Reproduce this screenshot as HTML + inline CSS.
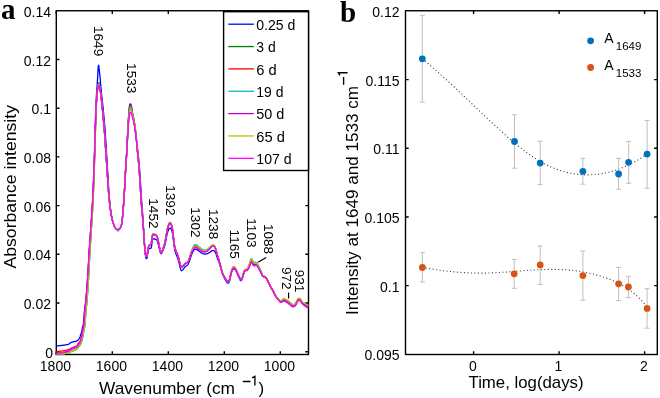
<!DOCTYPE html><html><head><meta charset="utf-8"><style>html,body{margin:0;padding:0;background:#fff;width:660px;height:398px;overflow:hidden}svg{display:block;will-change:transform}text{font-family:"Liberation Sans",sans-serif;fill:#000}</style></head><body>
<svg width="660" height="398" viewBox="0 0 660 398">
<rect width="660" height="398" fill="#fff"/>
<text x="1" y="19" style="font-family:'Liberation Serif',serif;font-weight:bold;font-size:29px">a</text>
<text x="340" y="22" style="font-family:'Liberation Serif',serif;font-weight:bold;font-size:29px">b</text>
<g stroke="#000" stroke-width="1.4" fill="none">
<rect x="56.3" y="10.75" width="252.2" height="343.75"/>
<path d="M56.3 354.5v-3.2M56.3 10.75v3.2M112.3 354.5v-3.2M112.3 10.75v3.2M168.3 354.5v-3.2M168.3 10.75v3.2M224.3 354.5v-3.2M224.3 10.75v3.2M280.3 354.5v-3.2M280.3 10.75v3.2M56.3 351.7h3.2M308.5 351.7h-3.2M56.3 303h3.2M308.5 303h-3.2M56.3 254.3h3.2M308.5 254.3h-3.2M56.3 205.6h3.2M308.5 205.6h-3.2M56.3 156.9h3.2M308.5 156.9h-3.2M56.3 108.2h3.2M308.5 108.2h-3.2M56.3 59.5h3.2M308.5 59.5h-3.2"/>
</g>
<g fill="none" stroke-width="1.3" stroke-linejoin="round">
<path stroke="#0000ff" d="M56.3 345.88 L56.55 345.87 L56.8 345.86 L57.05 345.84 L57.3 345.82 L57.55 345.81 L57.8 345.79 L58.05 345.77 L58.3 345.75 L58.55 345.73 L58.8 345.71 L59.05 345.69 L59.3 345.66 L59.55 345.64 L59.8 345.62 L60.05 345.59 L60.3 345.57 L60.55 345.55 L60.8 345.52 L61.05 345.49 L61.3 345.47 L61.55 345.44 L61.8 345.41 L62.05 345.39 L62.3 345.36 L62.55 345.33 L62.8 345.3 L63.05 345.26 L63.3 345.23 L63.55 345.2 L63.8 345.16 L64.05 345.13 L64.3 345.09 L64.55 345.05 L64.8 345.01 L65.05 344.97 L65.3 344.93 L65.55 344.88 L65.8 344.84 L66.05 344.79 L66.3 344.75 L66.55 344.7 L66.8 344.66 L67.05 344.62 L67.3 344.58 L67.55 344.52 L67.8 344.46 L68.05 344.39 L68.3 344.31 L68.55 344.22 L68.8 344.1 L69.05 343.97 L69.3 343.81 L69.55 343.62 L69.8 343.41 L70.05 343.19 L70.3 342.98 L70.55 342.78 L70.8 342.61 L71.05 342.48 L71.3 342.37 L71.55 342.28 L71.8 342.2 L72.05 342.13 L72.3 342.07 L72.55 342.02 L72.8 341.97 L73.05 341.92 L73.3 341.87 L73.55 341.81 L73.8 341.75 L74.05 341.7 L74.3 341.66 L74.55 341.61 L74.8 341.57 L75.05 341.53 L75.3 341.48 L75.55 341.43 L75.8 341.36 L76.05 341.28 L76.3 341.19 L76.55 341.08 L76.8 340.95 L77.05 340.79 L77.3 340.62 L77.55 340.42 L77.8 340.2 L78.05 339.95 L78.3 339.69 L78.55 339.42 L78.8 339.14 L79.05 338.84 L79.3 338.48 L79.55 338.03 L79.8 337.47 L80.05 336.79 L80.3 336.04 L80.55 335.25 L80.8 334.5 L81.05 333.81 L81.3 333.06 L81.55 332.19 L81.8 331.18 L82.05 329.74 L82.3 328.06 L82.55 326.83 L82.8 326.2 L83.05 325.65 L83.3 324.78 L83.55 322.66 L83.8 319.27 L84.05 315.53 L84.3 312.39 L84.55 310.05 L84.8 307.98 L85.05 306 L85.3 304.03 L85.55 301.95 L85.8 299.66 L86.05 297.18 L86.3 294.57 L86.55 291.8 L86.8 288.89 L87.05 285.81 L87.3 282.57 L87.55 279.13 L87.8 275.5 L88.05 271.58 L88.3 267.21 L88.55 262.63 L88.8 258.09 L89.05 253.8 L89.3 249.9 L89.55 246.2 L89.8 242.64 L90.05 239.15 L90.3 235.68 L90.55 232.16 L90.8 228.56 L91.05 225.05 L91.3 221.59 L91.55 218.11 L91.8 214.53 L92.05 210.75 L92.3 206.71 L92.55 202.32 L92.8 197.55 L93.05 192.43 L93.3 186.97 L93.55 181.19 L93.8 174.96 L94.05 168.1 L94.3 160.42 L94.55 152.01 L94.8 142.64 L95.05 132.96 L95.3 123.47 L95.55 114.32 L95.8 107.52 L96.05 102.34 L96.3 97.84 L96.55 93.8 L96.8 90.05 L97.05 86.61 L97.3 82.75 L97.55 78.62 L97.8 74.39 L98.05 69.88 L98.3 66.37 L98.55 65.06 L98.8 66 L99.05 68.09 L99.3 70.39 L99.55 72.57 L99.8 74.9 L100.05 77.3 L100.3 79.96 L100.55 82.95 L100.8 85.89 L101.05 88.59 L101.3 91.29 L101.55 94.01 L101.8 96.51 L102.05 98.67 L102.3 100.77 L102.55 102.97 L102.8 105.27 L103.05 107.65 L103.3 110.09 L103.55 112.59 L103.8 115.16 L104.05 117.82 L104.3 120.59 L104.55 123.49 L104.8 126.55 L105.05 129.78 L105.3 133.24 L105.55 136.99 L105.8 140.93 L106.05 144.96 L106.3 148.99 L106.55 152.98 L106.8 157.01 L107.05 161.07 L107.3 165.13 L107.55 169.18 L107.8 173.19 L108.05 177.34 L108.3 181.64 L108.55 185.93 L108.8 190.03 L109.05 193.73 L109.3 196.93 L109.55 199.87 L109.8 202.61 L110.05 205.13 L110.3 207.43 L110.55 209.53 L110.8 211.45 L111.05 213.23 L111.3 214.86 L111.55 216.35 L111.8 217.68 L112.05 218.86 L112.3 219.9 L112.55 220.83 L112.8 221.67 L113.05 222.45 L113.3 223.2 L113.55 223.94 L113.8 224.66 L114.05 225.34 L114.3 225.96 L114.55 226.5 L114.8 226.97 L115.05 227.42 L115.3 227.84 L115.55 228.21 L115.8 228.53 L116.05 228.78 L116.3 228.97 L116.55 229.13 L116.8 229.28 L117.05 229.41 L117.3 229.51 L117.55 229.58 L117.8 229.6 L118.05 229.58 L118.3 229.53 L118.55 229.44 L118.8 229.33 L119.05 229.2 L119.3 229.06 L119.55 228.89 L119.8 228.62 L120.05 228.25 L120.3 227.82 L120.55 227.32 L120.8 226.77 L121.05 226.16 L121.3 225.42 L121.55 224.5 L121.8 223.37 L122.05 221.66 L122.3 219.27 L122.55 216.51 L122.8 213.67 L123.05 210.79 L123.3 207.68 L123.55 204.36 L123.8 200.83 L124.05 197.06 L124.3 192.93 L124.55 188.54 L124.8 184.04 L125.05 179.27 L125.3 174.29 L125.55 169.57 L125.8 165.41 L126.05 161.59 L126.3 157.78 L126.55 153.69 L126.8 149.19 L127.05 144.42 L127.3 139.54 L127.55 134.73 L127.8 129.98 L128.05 125.24 L128.3 120.79 L128.55 116.82 L128.8 113.04 L129.05 109.81 L129.3 107.5 L129.55 105.67 L129.8 104.46 L130.05 104.03 L130.3 103.9 L130.55 104 L130.8 104.38 L131.05 105.06 L131.3 105.89 L131.55 106.97 L131.8 108.48 L132.05 110.23 L132.3 111.93 L132.55 113.54 L132.8 115.05 L133.05 116.43 L133.3 117.83 L133.55 119.32 L133.8 120.89 L134.05 122.5 L134.3 124.12 L134.55 125.74 L134.8 127.35 L135.05 128.94 L135.3 130.65 L135.55 132.51 L135.8 134.52 L136.05 136.65 L136.3 138.72 L136.55 140.81 L136.8 142.88 L137.05 144.94 L137.3 147 L137.55 149.09 L137.8 151.22 L138.05 153.48 L138.3 155.76 L138.55 158.06 L138.8 160.47 L139.05 163.06 L139.3 165.84 L139.55 168.78 L139.8 171.89 L140.05 175.21 L140.3 178.82 L140.55 182.94 L140.8 187.3 L141.05 191.51 L141.3 195.43 L141.55 199.25 L141.8 202.9 L142.05 206.27 L142.3 209.4 L142.55 212.49 L142.8 215.88 L143.05 219.72 L143.3 223.82 L143.55 228.14 L143.8 232.74 L144.05 237.58 L144.3 242 L144.55 246.06 L144.8 249.6 L145.05 252.13 L145.3 254.28 L145.55 256.2 L145.8 257.58 L146.05 258.13 L146.3 258.32 L146.55 258.48 L146.8 258.59 L147.05 257.93 L147.3 256.34 L147.55 254.66 L147.8 253.27 L148.05 251.8 L148.3 250.51 L148.55 249.64 L148.8 249.03 L149.05 248.58 L149.3 248.35 L149.55 248.32 L149.8 248.36 L150.05 248.43 L150.3 248.46 L150.55 248.41 L150.8 248.28 L151.05 248 L151.3 247.55 L151.55 246.16 L151.8 243.97 L152.05 242.22 L152.3 240.74 L152.55 239.51 L152.8 238.99 L153.05 238.98 L153.3 238.97 L153.55 238.97 L153.8 238.98 L154.05 238.98 L154.3 238.98 L154.55 239 L154.8 239.05 L155.05 239.12 L155.3 239.2 L155.55 239.3 L155.8 239.4 L156.05 239.51 L156.3 239.66 L156.55 239.85 L156.8 240.1 L157.05 240.47 L157.3 241.1 L157.55 241.9 L157.8 242.76 L158.05 243.59 L158.3 244.5 L158.55 245.51 L158.8 246.57 L159.05 247.61 L159.3 248.59 L159.55 249.68 L159.8 250.78 L160.05 251.75 L160.3 252.43 L160.55 252.93 L160.8 253.4 L161.05 253.73 L161.3 253.78 L161.55 253.51 L161.8 253.03 L162.05 252.49 L162.3 252 L162.55 251.46 L162.8 250.87 L163.05 250.24 L163.3 249.63 L163.55 249.03 L163.8 248.43 L164.05 247.8 L164.3 247.09 L164.55 246.29 L164.8 245.36 L165.05 244.34 L165.3 243.24 L165.55 242.09 L165.8 240.91 L166.05 239.61 L166.3 238.19 L166.55 236.77 L166.8 235.46 L167.05 234.36 L167.3 233.41 L167.55 232.53 L167.8 231.73 L168.05 231.02 L168.3 230.41 L168.55 229.82 L168.8 229.25 L169.05 228.77 L169.3 228.46 L169.55 228.37 L169.8 228.29 L170.05 228.23 L170.3 228.18 L170.55 228.24 L170.8 228.47 L171.05 228.79 L171.3 229.16 L171.55 229.69 L171.8 230.47 L172.05 231.45 L172.3 232.58 L172.55 233.9 L172.8 235.67 L173.05 237.69 L173.3 239.72 L173.55 241.62 L173.8 243.62 L174.05 245.6 L174.3 247.38 L174.55 248.81 L174.8 249.99 L175.05 251.06 L175.3 252 L175.55 252.84 L175.8 253.58 L176.05 254.23 L176.3 254.82 L176.55 255.39 L176.8 256 L177.05 256.62 L177.3 257.23 L177.55 257.85 L177.8 258.52 L178.05 259.25 L178.3 260.1 L178.55 261.04 L178.8 262.04 L179.05 263.04 L179.3 264.04 L179.55 265.1 L179.8 266.18 L180.05 267.2 L180.3 268.09 L180.55 268.81 L180.8 269.53 L181.05 270.16 L181.3 270.58 L181.55 270.7 L181.8 270.63 L182.05 270.49 L182.3 270.3 L182.55 270.09 L182.8 269.85 L183.05 269.55 L183.3 269.2 L183.55 268.84 L183.8 268.49 L184.05 268.14 L184.3 267.77 L184.55 267.41 L184.8 267.08 L185.05 266.83 L185.3 266.62 L185.55 266.43 L185.8 266.26 L186.05 266.08 L186.3 265.9 L186.55 265.73 L186.8 265.55 L187.05 265.36 L187.3 265.14 L187.55 264.89 L187.8 264.59 L188.05 264.26 L188.3 263.86 L188.55 263.36 L188.8 262.8 L189.05 262.18 L189.3 261.53 L189.55 260.86 L189.8 260.16 L190.05 259.39 L190.3 258.57 L190.55 257.73 L190.8 256.93 L191.05 256.18 L191.3 255.5 L191.55 254.85 L191.8 254.22 L192.05 253.62 L192.3 253.04 L192.55 252.49 L192.8 251.97 L193.05 251.44 L193.3 250.93 L193.55 250.46 L193.8 250.07 L194.05 249.79 L194.3 249.55 L194.55 249.33 L194.8 249.18 L195.05 249.1 L195.3 249.11 L195.55 249.13 L195.8 249.16 L196.05 249.21 L196.3 249.27 L196.55 249.33 L196.8 249.44 L197.05 249.59 L197.3 249.79 L197.55 249.99 L197.8 250.2 L198.05 250.39 L198.3 250.57 L198.55 250.76 L198.8 250.95 L199.05 251.14 L199.3 251.33 L199.55 251.52 L199.8 251.7 L200.05 251.88 L200.3 252.06 L200.55 252.25 L200.8 252.44 L201.05 252.63 L201.3 252.82 L201.55 252.99 L201.8 253.14 L202.05 253.28 L202.3 253.39 L202.55 253.48 L202.8 253.58 L203.05 253.67 L203.3 253.75 L203.55 253.83 L203.8 253.91 L204.05 253.97 L204.3 254.02 L204.55 254.06 L204.8 254.08 L205.05 254.08 L205.3 254.05 L205.55 254.02 L205.8 253.97 L206.05 253.92 L206.3 253.87 L206.55 253.82 L206.8 253.77 L207.05 253.72 L207.3 253.64 L207.55 253.55 L207.8 253.44 L208.05 253.31 L208.3 253.18 L208.55 253.05 L208.8 252.92 L209.05 252.77 L209.3 252.6 L209.55 252.41 L209.8 252.22 L210.05 252.02 L210.3 251.84 L210.55 251.67 L210.8 251.51 L211.05 251.33 L211.3 251.15 L211.55 250.98 L211.8 250.84 L212.05 250.75 L212.3 250.71 L212.55 250.68 L212.8 250.66 L213.05 250.63 L213.3 250.61 L213.55 250.6 L213.8 250.61 L214.05 250.72 L214.3 250.93 L214.55 251.19 L214.8 251.48 L215.05 251.78 L215.3 252.18 L215.55 252.72 L215.8 253.35 L216.05 254.02 L216.3 254.69 L216.55 255.47 L216.8 256.31 L217.05 257.17 L217.3 257.97 L217.55 258.67 L217.8 259.33 L218.05 259.96 L218.3 260.58 L218.55 261.22 L218.8 261.89 L219.05 262.62 L219.3 263.38 L219.55 264.16 L219.8 264.96 L220.05 265.76 L220.3 266.57 L220.55 267.41 L220.8 268.3 L221.05 269.22 L221.3 270.15 L221.55 271.06 L221.8 271.94 L222.05 272.77 L222.3 273.5 L222.55 274.16 L222.8 274.77 L223.05 275.34 L223.3 275.88 L223.55 276.41 L223.8 276.92 L224.05 277.43 L224.3 277.94 L224.55 278.44 L224.8 278.92 L225.05 279.39 L225.3 279.85 L225.55 280.28 L225.8 280.7 L226.05 281.12 L226.3 281.53 L226.55 281.91 L226.8 282.24 L227.05 282.51 L227.3 282.77 L227.55 283 L227.8 283.15 L228.05 283.2 L228.3 283.1 L228.55 282.88 L228.8 282.57 L229.05 282.19 L229.3 281.75 L229.55 281 L229.8 280.01 L230.05 278.91 L230.3 277.84 L230.55 276.75 L230.8 275.6 L231.05 274.53 L231.3 273.57 L231.55 272.62 L231.8 271.75 L232.05 271.04 L232.3 270.52 L232.55 270.06 L232.8 269.63 L233.05 269.28 L233.3 269.03 L233.55 268.91 L233.8 268.92 L234.05 268.98 L234.3 269.08 L234.55 269.21 L234.8 269.37 L235.05 269.54 L235.3 269.8 L235.55 270.15 L235.8 270.57 L236.05 271.01 L236.3 271.47 L236.55 272 L236.8 272.58 L237.05 273.18 L237.3 273.79 L237.55 274.38 L237.8 274.97 L238.05 275.59 L238.3 276.21 L238.55 276.82 L238.8 277.42 L239.05 277.98 L239.3 278.51 L239.55 279.05 L239.8 279.58 L240.05 280.01 L240.3 280.3 L240.55 280.48 L240.8 280.63 L241.05 280.7 L241.3 280.6 L241.55 280.27 L241.8 279.8 L242.05 279.29 L242.3 278.61 L242.55 277.75 L242.8 276.81 L243.05 275.89 L243.3 275.07 L243.55 274.22 L243.8 273.36 L244.05 272.55 L244.3 271.87 L244.55 271.36 L244.8 271.03 L245.05 270.73 L245.3 270.49 L245.55 270.34 L245.8 270.31 L246.05 270.38 L246.3 270.49 L246.55 270.58 L246.8 270.58 L247.05 270.43 L247.3 270.16 L247.55 269.83 L247.8 269.5 L248.05 269.17 L248.3 268.79 L248.55 268.37 L248.8 267.91 L249.05 267.42 L249.3 266.87 L249.55 266.17 L249.8 265.39 L250.05 264.63 L250.3 264 L250.55 263.43 L250.8 262.86 L251.05 262.39 L251.3 262.13 L251.55 262.15 L251.8 262.41 L252.05 262.82 L252.3 263.27 L252.55 263.68 L252.8 264.17 L253.05 264.72 L253.3 265.21 L253.55 265.54 L253.8 265.6 L254.05 265.6 L254.3 265.6 L254.55 265.6 L254.8 265.6 L255.05 265.6 L255.3 265.52 L255.55 265.38 L255.8 265.23 L256.05 265.12 L256.3 265.11 L256.55 265.23 L256.8 265.45 L257.05 265.74 L257.3 266.05 L257.55 266.36 L257.8 266.72 L258.05 267.13 L258.3 267.58 L258.55 268.04 L258.8 268.5 L259.05 268.95 L259.3 269.4 L259.55 269.86 L259.8 270.33 L260.05 270.81 L260.3 271.3 L260.55 271.82 L260.8 272.36 L261.05 272.89 L261.3 273.41 L261.55 273.89 L261.8 274.38 L262.05 274.86 L262.3 275.31 L262.55 275.7 L262.8 276 L263.05 276.22 L263.3 276.41 L263.55 276.57 L263.8 276.71 L264.05 276.82 L264.3 276.9 L264.55 276.97 L264.8 277.03 L265.05 277.1 L265.3 277.2 L265.55 277.36 L265.8 277.6 L266.05 277.9 L266.3 278.25 L266.55 278.62 L266.8 279 L267.05 279.43 L267.3 279.93 L267.55 280.49 L267.8 281.07 L268.05 281.65 L268.3 282.2 L268.55 282.74 L268.8 283.29 L269.05 283.84 L269.3 284.38 L269.55 284.91 L269.8 285.42 L270.05 285.89 L270.3 286.34 L270.55 286.75 L270.8 287.15 L271.05 287.55 L271.3 287.94 L271.55 288.34 L271.8 288.75 L272.05 289.19 L272.3 289.65 L272.55 290.12 L272.8 290.61 L273.05 291.1 L273.3 291.6 L273.55 292.1 L273.8 292.62 L274.05 293.15 L274.3 293.69 L274.55 294.21 L274.8 294.72 L275.05 295.19 L275.3 295.65 L275.55 296.09 L275.8 296.51 L276.05 296.92 L276.3 297.31 L276.55 297.67 L276.8 298.02 L277.05 298.34 L277.3 298.66 L277.55 298.96 L277.8 299.25 L278.05 299.54 L278.3 299.83 L278.55 300.11 L278.8 300.38 L279.05 300.64 L279.3 300.9 L279.55 301.16 L279.8 301.46 L280.05 301.75 L280.3 301.98 L280.55 302.1 L280.8 302.09 L281.05 302.05 L281.3 302 L281.55 301.93 L281.8 301.86 L282.05 301.78 L282.3 301.68 L282.55 301.54 L282.8 301.39 L283.05 301.26 L283.3 301.15 L283.55 301.1 L283.8 301.11 L284.05 301.14 L284.3 301.19 L284.55 301.25 L284.8 301.32 L285.05 301.39 L285.3 301.46 L285.55 301.56 L285.8 301.67 L286.05 301.8 L286.3 301.93 L286.55 302.07 L286.8 302.21 L287.05 302.37 L287.3 302.53 L287.55 302.71 L287.8 302.88 L288.05 303.07 L288.3 303.25 L288.55 303.44 L288.8 303.63 L289.05 303.82 L289.3 304.02 L289.55 304.22 L289.8 304.42 L290.05 304.63 L290.3 304.83 L290.55 305.04 L290.8 305.27 L291.05 305.52 L291.3 305.76 L291.55 305.99 L291.8 306.18 L292.05 306.33 L292.3 306.45 L292.55 306.57 L292.8 306.66 L293.05 306.7 L293.3 306.69 L293.55 306.65 L293.8 306.58 L294.05 306.5 L294.3 306.4 L294.55 306.26 L294.8 306.05 L295.05 305.79 L295.3 305.48 L295.55 305.15 L295.8 304.8 L296.05 304.39 L296.3 303.89 L296.55 303.34 L296.8 302.78 L297.05 302.26 L297.3 301.8 L297.55 301.38 L297.8 300.96 L298.05 300.62 L298.3 300.4 L298.55 300.27 L298.8 300.17 L299.05 300.11 L299.3 300.11 L299.55 300.22 L299.8 300.42 L300.05 300.66 L300.3 300.9 L300.55 301.17 L300.8 301.49 L301.05 301.84 L301.3 302.2 L301.55 302.54 L301.8 302.86 L302.05 303.18 L302.3 303.51 L302.55 303.82 L302.8 304.1 L303.05 304.35 L303.3 304.55 L303.55 304.74 L303.8 304.91 L304.05 305.09 L304.3 305.28 L304.55 305.48 L304.8 305.68 L305.05 305.89 L305.3 306.09 L305.55 306.28 L305.8 306.46 L306.05 306.63 L306.3 306.79 L306.55 306.94 L306.8 307.09 L307.05 307.23 L307.3 307.37 L307.55 307.49 L307.8 307.61 L308.05 307.72 L308.3 307.82"/>
<path stroke="#008000" d="M56.3 353.9 L56.55 353.9 L56.8 353.9 L57.05 353.9 L57.3 353.9 L57.55 353.9 L57.8 353.9 L58.05 353.9 L58.3 353.9 L58.55 353.9 L58.8 353.9 L59.05 353.9 L59.3 353.9 L59.55 353.9 L59.8 353.9 L60.05 353.9 L60.3 353.9 L60.55 353.9 L60.8 353.9 L61.05 353.9 L61.3 353.9 L61.55 353.9 L61.8 353.9 L62.05 353.9 L62.3 353.9 L62.55 353.9 L62.8 353.89 L63.05 353.85 L63.3 353.81 L63.55 353.77 L63.8 353.73 L64.05 353.69 L64.3 353.65 L64.55 353.6 L64.8 353.55 L65.05 353.51 L65.3 353.46 L65.55 353.41 L65.8 353.36 L66.05 353.3 L66.3 353.25 L66.55 353.2 L66.8 353.15 L67.05 353.1 L67.3 353.05 L67.55 352.99 L67.8 352.94 L68.05 352.88 L68.3 352.82 L68.55 352.76 L68.8 352.69 L69.05 352.63 L69.3 352.54 L69.55 352.44 L69.8 352.32 L70.05 352.19 L70.3 352.05 L70.55 351.91 L70.8 351.77 L71.05 351.64 L71.3 351.52 L71.55 351.4 L71.8 351.3 L72.05 351.2 L72.3 351.1 L72.55 351 L72.8 350.91 L73.05 350.81 L73.3 350.71 L73.55 350.61 L73.8 350.5 L74.05 350.39 L74.3 350.29 L74.55 350.19 L74.8 350.09 L75.05 349.99 L75.3 349.89 L75.55 349.77 L75.8 349.65 L76.05 349.51 L76.3 349.36 L76.55 349.17 L76.8 348.94 L77.05 348.67 L77.3 348.39 L77.55 348.08 L77.8 347.76 L78.05 347.45 L78.3 347.15 L78.55 346.89 L78.8 346.63 L79.05 346.35 L79.3 346.05 L79.55 345.73 L79.8 345.4 L80.05 345.05 L80.3 344.66 L80.55 344.22 L80.8 343.7 L81.05 343.06 L81.3 342.32 L81.55 341.5 L81.8 340.64 L82.05 339.73 L82.3 338.77 L82.55 337.74 L82.8 336.61 L83.05 335.37 L83.3 334 L83.55 332.18 L83.8 330.2 L84.05 328.74 L84.3 327.87 L84.55 327.11 L84.8 326 L85.05 323.63 L85.3 319.96 L85.55 315.88 L85.8 312.4 L86.05 309.68 L86.3 307.22 L86.55 304.83 L86.8 302.3 L87.05 299.41 L87.3 296.18 L87.55 292.72 L87.8 289.05 L88.05 285.2 L88.3 281.18 L88.55 277.02 L88.8 272.73 L89.05 267.99 L89.3 262.95 L89.55 257.95 L89.8 253.29 L90.05 249.08 L90.3 245.09 L90.55 241.23 L90.8 237.43 L91.05 233.61 L91.3 229.68 L91.55 225.79 L91.8 221.98 L92.05 218.15 L92.3 214.2 L92.55 210 L92.8 205.45 L93.05 200.46 L93.3 195.02 L93.55 189.16 L93.8 182.9 L94.05 176.18 L94.3 168.71 L94.55 160.75 L94.8 152.61 L95.05 143.98 L95.3 135.09 L95.55 126.46 L95.8 117.75 L96.05 110.4 L96.3 104.99 L96.55 100.56 L96.8 96.9 L97.05 93.79 L97.3 91.04 L97.55 88.67 L97.8 86.66 L98.05 84.95 L98.3 83.79 L98.55 82.95 L98.8 82.6 L99.05 82.96 L99.3 83.8 L99.55 84.88 L99.8 86.34 L100.05 88.06 L100.3 89.98 L100.55 92.12 L100.8 94.32 L101.05 96.41 L101.3 98.52 L101.55 100.75 L101.8 103.09 L102.05 105.51 L102.3 107.99 L102.55 110.51 L102.8 113.07 L103.05 115.68 L103.3 118.36 L103.55 121.11 L103.8 123.97 L104.05 126.92 L104.3 130 L104.55 133.27 L104.8 136.77 L105.05 140.4 L105.3 144.11 L105.55 147.81 L105.8 151.45 L106.05 155.1 L106.3 158.78 L106.55 162.47 L106.8 166.15 L107.05 169.82 L107.3 173.47 L107.55 177.27 L107.8 181.14 L108.05 184.97 L108.3 188.63 L108.55 192.02 L108.8 195 L109.05 197.66 L109.3 200.15 L109.55 202.48 L109.8 204.67 L110.05 206.7 L110.3 208.59 L110.55 210.34 L110.8 212 L111.05 213.57 L111.3 215.04 L111.55 216.42 L111.8 217.7 L112.05 218.86 L112.3 219.9 L112.55 220.83 L112.8 221.67 L113.05 222.45 L113.3 223.2 L113.55 223.94 L113.8 224.66 L114.05 225.34 L114.3 225.96 L114.55 226.5 L114.8 226.97 L115.05 227.42 L115.3 227.84 L115.55 228.21 L115.8 228.53 L116.05 228.78 L116.3 228.97 L116.55 229.13 L116.8 229.28 L117.05 229.41 L117.3 229.51 L117.55 229.58 L117.8 229.6 L118.05 229.58 L118.3 229.53 L118.55 229.44 L118.8 229.33 L119.05 229.2 L119.3 229.06 L119.55 228.89 L119.8 228.62 L120.05 228.25 L120.3 227.82 L120.55 227.33 L120.8 226.8 L121.05 226.21 L121.3 225.49 L121.55 224.6 L121.8 223.5 L122.05 221.84 L122.3 219.49 L122.55 216.78 L122.8 214 L123.05 211.18 L123.3 208.13 L123.55 204.88 L123.8 201.43 L124.05 197.75 L124.3 193.7 L124.55 189.41 L124.8 185 L125.05 180.33 L125.3 175.47 L125.55 170.85 L125.8 166.81 L126.05 163.11 L126.3 159.4 L126.55 155.38 L126.8 150.92 L127.05 146.19 L127.3 141.35 L127.55 136.58 L127.8 131.9 L128.05 127.26 L128.3 122.96 L128.55 119.18 L128.8 115.59 L129.05 112.55 L129.3 110.37 L129.55 108.62 L129.8 107.37 L130.05 106.79 L130.3 106.44 L130.55 106.3 L130.8 106.46 L131.05 106.93 L131.3 107.58 L131.55 108.49 L131.8 109.73 L132.05 111.05 L132.3 112.25 L132.55 113.33 L132.8 114.36 L133.05 115.36 L133.3 116.39 L133.55 117.49 L133.8 118.68 L134.05 119.93 L134.3 121.27 L134.55 122.72 L134.8 124.28 L135.05 125.98 L135.3 127.9 L135.55 130.02 L135.8 132.32 L136.05 134.76 L136.3 137.33 L136.55 140.21 L136.8 143.26 L137.05 146.29 L137.3 149.15 L137.55 151.8 L137.8 154.34 L138.05 156.84 L138.3 159.42 L138.55 162.16 L138.8 165.09 L139.05 168.17 L139.3 171.41 L139.55 174.84 L139.8 178.5 L140.05 182.65 L140.3 187.01 L140.55 191.21 L140.8 195.08 L141.05 198.83 L141.3 202.37 L141.55 205.62 L141.8 208.47 L142.05 211.12 L142.3 213.84 L142.55 216.82 L142.8 219.96 L143.05 223.22 L143.3 226.61 L143.55 230.18 L143.8 234.03 L144.05 237.86 L144.3 241.38 L144.55 244.85 L144.8 248 L145.05 250.42 L145.3 252.53 L145.55 254.41 L145.8 255.74 L146.05 256.23 L146.3 256.38 L146.55 256.47 L146.8 256.5 L147.05 255.76 L147.3 254.08 L147.55 252.3 L147.8 250.8 L148.05 249.23 L148.3 247.82 L148.55 246.84 L148.8 246.12 L149.05 245.55 L149.3 245.2 L149.55 245.02 L149.8 244.91 L150.05 244.81 L150.3 244.67 L150.55 244.47 L150.8 244.18 L151.05 243.77 L151.3 243.2 L151.55 241.73 L151.8 239.49 L152.05 237.72 L152.3 236.24 L152.55 235.01 L152.8 234.5 L153.05 234.5 L153.3 234.51 L153.55 234.53 L153.8 234.55 L154.05 234.57 L154.3 234.6 L154.55 234.64 L154.8 234.72 L155.05 234.82 L155.3 234.93 L155.55 235.06 L155.8 235.2 L156.05 235.35 L156.3 235.54 L156.55 235.77 L156.8 236.06 L157.05 236.48 L157.3 237.2 L157.55 238.13 L157.8 239.17 L158.05 240.21 L158.3 241.35 L158.55 242.62 L158.8 243.94 L159.05 245.25 L159.3 246.5 L159.55 247.84 L159.8 249.18 L160.05 250.35 L160.3 251.2 L160.55 251.83 L160.8 252.38 L161.05 252.73 L161.3 252.77 L161.55 252.46 L161.8 251.94 L162.05 251.34 L162.3 250.78 L162.55 250.15 L162.8 249.46 L163.05 248.73 L163.3 248 L163.55 247.28 L163.8 246.56 L164.05 245.8 L164.3 244.96 L164.55 244.02 L164.8 242.96 L165.05 241.81 L165.3 240.58 L165.55 239.3 L165.8 238 L166.05 236.59 L166.3 235.04 L166.55 233.48 L166.8 232.02 L167.05 230.77 L167.3 229.65 L167.55 228.6 L167.8 227.64 L168.05 226.77 L168.3 226 L168.55 225.27 L168.8 224.57 L169.05 223.98 L169.3 223.58 L169.55 223.42 L169.8 223.3 L170.05 223.23 L170.3 223.2 L170.55 223.31 L170.8 223.61 L171.05 224.02 L171.3 224.5 L171.55 225.14 L171.8 226.06 L172.05 227.19 L172.3 228.46 L172.55 229.93 L172.8 231.84 L173.05 234.02 L173.3 236.19 L173.55 238.22 L173.8 240.33 L174.05 242.41 L174.3 244.28 L174.55 245.76 L174.8 246.99 L175.05 248.06 L175.3 249 L175.55 249.84 L175.8 250.58 L176.05 251.23 L176.3 251.82 L176.55 252.39 L176.8 253 L177.05 253.62 L177.3 254.23 L177.55 254.85 L177.8 255.52 L178.05 256.25 L178.3 257.09 L178.55 258.01 L178.8 258.97 L179.05 259.93 L179.3 260.88 L179.55 261.89 L179.8 262.92 L180.05 263.89 L180.3 264.72 L180.55 265.4 L180.8 266.08 L181.05 266.68 L181.3 267.09 L181.55 267.2 L181.8 267.13 L182.05 267 L182.3 266.83 L182.55 266.64 L182.8 266.43 L183.05 266.15 L183.3 265.84 L183.55 265.51 L183.8 265.2 L184.05 264.89 L184.3 264.56 L184.55 264.25 L184.8 263.97 L185.05 263.76 L185.3 263.61 L185.55 263.47 L185.8 263.35 L186.05 263.23 L186.3 263.09 L186.55 262.95 L186.8 262.8 L187.05 262.63 L187.3 262.41 L187.55 262.16 L187.8 261.85 L188.05 261.5 L188.3 261.08 L188.55 260.56 L188.8 259.97 L189.05 259.32 L189.3 258.63 L189.55 257.94 L189.8 257.21 L190.05 256.4 L190.3 255.54 L190.55 254.67 L190.8 253.83 L191.05 253.05 L191.3 252.33 L191.55 251.64 L191.8 250.98 L192.05 250.34 L192.3 249.74 L192.55 249.16 L192.8 248.61 L193.05 248.05 L193.3 247.52 L193.55 247.03 L193.8 246.62 L194.05 246.32 L194.3 246.06 L194.55 245.84 L194.8 245.68 L195.05 245.6 L195.3 245.61 L195.55 245.63 L195.8 245.66 L196.05 245.71 L196.3 245.77 L196.55 245.83 L196.8 245.94 L197.05 246.1 L197.3 246.3 L197.55 246.51 L197.8 246.72 L198.05 246.91 L198.3 247.09 L198.55 247.28 L198.8 247.48 L199.05 247.67 L199.3 247.86 L199.55 248.05 L199.8 248.24 L200.05 248.42 L200.3 248.6 L200.55 248.79 L200.8 248.99 L201.05 249.18 L201.3 249.36 L201.55 249.53 L201.8 249.69 L202.05 249.82 L202.3 249.93 L202.55 250.02 L202.8 250.12 L203.05 250.21 L203.3 250.29 L203.55 250.37 L203.8 250.44 L204.05 250.49 L204.3 250.54 L204.55 250.57 L204.8 250.59 L205.05 250.57 L205.3 250.54 L205.55 250.48 L205.8 250.4 L206.05 250.31 L206.3 250.21 L206.55 250.1 L206.8 250 L207.05 249.88 L207.3 249.73 L207.55 249.56 L207.8 249.37 L208.05 249.16 L208.3 248.95 L208.55 248.73 L208.8 248.51 L209.05 248.27 L209.3 248.01 L209.55 247.74 L209.8 247.46 L210.05 247.18 L210.3 246.91 L210.55 246.66 L210.8 246.43 L211.05 246.18 L211.3 245.94 L211.55 245.71 L211.8 245.52 L212.05 245.38 L212.3 245.31 L212.55 245.25 L212.8 245.21 L213.05 245.17 L213.3 245.16 L213.55 245.16 L213.8 245.2 L214.05 245.38 L214.3 245.68 L214.55 246.08 L214.8 246.52 L215.05 246.98 L215.3 247.57 L215.55 248.31 L215.8 249.13 L216.05 250 L216.3 250.87 L216.55 251.83 L216.8 252.85 L217.05 253.87 L217.3 254.82 L217.55 255.69 L217.8 256.51 L218.05 257.31 L218.3 258.1 L218.55 258.9 L218.8 259.74 L219.05 260.62 L219.3 261.52 L219.55 262.44 L219.8 263.37 L220.05 264.29 L220.3 265.2 L220.55 266.13 L220.8 267.11 L221.05 268.1 L221.3 269.08 L221.55 270.03 L221.8 270.94 L222.05 271.77 L222.3 272.5 L222.55 273.15 L222.8 273.74 L223.05 274.3 L223.3 274.82 L223.55 275.32 L223.8 275.81 L224.05 276.3 L224.3 276.78 L224.55 277.24 L224.8 277.7 L225.05 278.14 L225.3 278.56 L225.55 278.97 L225.8 279.36 L226.05 279.75 L226.3 280.13 L226.55 280.48 L226.8 280.79 L227.05 281.05 L227.3 281.29 L227.55 281.5 L227.8 281.66 L228.05 281.7 L228.3 281.6 L228.55 281.39 L228.8 281.09 L229.05 280.73 L229.3 280.31 L229.55 279.58 L229.8 278.62 L230.05 277.54 L230.3 276.5 L230.55 275.44 L230.8 274.33 L231.05 273.29 L231.3 272.36 L231.55 271.44 L231.8 270.6 L232.05 269.91 L232.3 269.42 L232.55 268.98 L232.8 268.58 L233.05 268.25 L233.3 268.01 L233.55 267.9 L233.8 267.92 L234.05 267.98 L234.3 268.08 L234.55 268.21 L234.8 268.37 L235.05 268.54 L235.3 268.8 L235.55 269.15 L235.8 269.57 L236.05 270.01 L236.3 270.47 L236.55 271 L236.8 271.58 L237.05 272.18 L237.3 272.79 L237.55 273.38 L237.8 273.97 L238.05 274.59 L238.3 275.21 L238.55 275.82 L238.8 276.42 L239.05 276.98 L239.3 277.51 L239.55 278.05 L239.8 278.58 L240.05 279.01 L240.3 279.3 L240.55 279.48 L240.8 279.63 L241.05 279.7 L241.3 279.61 L241.55 279.31 L241.8 278.87 L242.05 278.4 L242.3 277.77 L242.55 276.98 L242.8 276.1 L243.05 275.26 L243.3 274.51 L243.55 273.73 L243.8 272.95 L244.05 272.22 L244.3 271.6 L244.55 271.16 L244.8 270.88 L245.05 270.63 L245.3 270.41 L245.55 270.23 L245.8 270.12 L246.05 270.07 L246.3 270.04 L246.55 269.98 L246.8 269.82 L247.05 269.5 L247.3 269.06 L247.55 268.57 L247.8 268.1 L248.05 267.64 L248.3 267.14 L248.55 266.58 L248.8 265.98 L249.05 265.34 L249.3 264.64 L249.55 263.8 L249.8 262.89 L250.05 262 L250.3 261.26 L250.55 260.59 L250.8 259.94 L251.05 259.42 L251.3 259.13 L251.55 259.15 L251.8 259.43 L252.05 259.86 L252.3 260.34 L252.55 260.79 L252.8 261.33 L253.05 261.94 L253.3 262.5 L253.55 262.89 L253.8 263.02 L254.05 263.09 L254.3 263.16 L254.55 263.24 L254.8 263.31 L255.05 263.37 L255.3 263.36 L255.55 263.28 L255.8 263.19 L256.05 263.13 L256.3 263.17 L256.55 263.34 L256.8 263.6 L257.05 263.93 L257.3 264.29 L257.55 264.65 L257.8 265.04 L258.05 265.5 L258.3 266 L258.55 266.5 L258.8 267 L259.05 267.49 L259.3 267.98 L259.55 268.48 L259.8 268.99 L260.05 269.51 L260.3 270.04 L260.55 270.6 L260.8 271.18 L261.05 271.75 L261.3 272.31 L261.55 272.83 L261.8 273.35 L262.05 273.87 L262.3 274.36 L262.55 274.79 L262.8 275.12 L263.05 275.38 L263.3 275.61 L263.55 275.82 L263.8 275.99 L264.05 276.15 L264.3 276.27 L264.55 276.38 L264.8 276.48 L265.05 276.59 L265.3 276.73 L265.55 276.94 L265.8 277.22 L266.05 277.55 L266.3 277.93 L266.55 278.34 L266.8 278.76 L267.05 279.22 L267.3 279.76 L267.55 280.34 L267.8 280.95 L268.05 281.55 L268.3 282.12 L268.55 282.68 L268.8 283.25 L269.05 283.81 L269.3 284.37 L269.55 284.9 L269.8 285.42 L270.05 285.89 L270.3 286.33 L270.55 286.75 L270.8 287.15 L271.05 287.53 L271.3 287.91 L271.55 288.3 L271.8 288.71 L272.05 289.13 L272.3 289.58 L272.55 290.03 L272.8 290.5 L273.05 290.98 L273.3 291.46 L273.55 291.94 L273.8 292.43 L274.05 292.94 L274.3 293.45 L274.55 293.95 L274.8 294.43 L275.05 294.88 L275.3 295.3 L275.55 295.71 L275.8 296.11 L276.05 296.48 L276.3 296.84 L276.55 297.17 L276.8 297.48 L277.05 297.78 L277.3 298.05 L277.55 298.32 L277.8 298.58 L278.05 298.83 L278.3 299.08 L278.55 299.33 L278.8 299.56 L279.05 299.79 L279.3 300.01 L279.55 300.23 L279.8 300.49 L280.05 300.75 L280.3 300.93 L280.55 300.98 L280.8 300.91 L281.05 300.8 L281.3 300.66 L281.55 300.51 L281.8 300.35 L282.05 300.19 L282.3 300 L282.55 299.79 L282.8 299.57 L283.05 299.37 L283.3 299.22 L283.55 299.13 L283.8 299.11 L284.05 299.14 L284.3 299.19 L284.55 299.25 L284.8 299.32 L285.05 299.39 L285.3 299.46 L285.55 299.56 L285.8 299.67 L286.05 299.8 L286.3 299.93 L286.55 300.07 L286.8 300.21 L287.05 300.37 L287.3 300.53 L287.55 300.71 L287.8 300.88 L288.05 301.07 L288.3 301.25 L288.55 301.44 L288.8 301.63 L289.05 301.82 L289.3 302.02 L289.55 302.22 L289.8 302.42 L290.05 302.63 L290.3 302.83 L290.55 303.04 L290.8 303.27 L291.05 303.52 L291.3 303.76 L291.55 303.99 L291.8 304.18 L292.05 304.33 L292.3 304.45 L292.55 304.57 L292.8 304.66 L293.05 304.7 L293.3 304.69 L293.55 304.66 L293.8 304.6 L294.05 304.54 L294.3 304.46 L294.55 304.34 L294.8 304.16 L295.05 303.92 L295.3 303.64 L295.55 303.34 L295.8 303.03 L296.05 302.65 L296.3 302.18 L296.55 301.66 L296.8 301.13 L297.05 300.63 L297.3 300.2 L297.55 299.8 L297.8 299.41 L298.05 299.08 L298.3 298.88 L298.55 298.77 L298.8 298.67 L299.05 298.61 L299.3 298.61 L299.55 298.72 L299.8 298.91 L300.05 299.14 L300.3 299.38 L300.55 299.64 L300.8 299.95 L301.05 300.29 L301.3 300.63 L301.55 300.96 L301.8 301.26 L302.05 301.57 L302.3 301.88 L302.55 302.17 L302.8 302.43 L303.05 302.65 L303.3 302.83 L303.55 302.99 L303.8 303.14 L304.05 303.28 L304.3 303.44 L304.55 303.6 L304.8 303.77 L305.05 303.94 L305.3 304.1 L305.55 304.26 L305.8 304.4 L306.05 304.53 L306.3 304.64 L306.55 304.75 L306.8 304.84 L307.05 304.94 L307.3 305.02 L307.55 305.09 L307.8 305.16 L308.05 305.21 L308.3 305.25"/>
<path stroke="#ff0000" d="M56.3 351.4 L56.55 351.39 L56.8 351.38 L57.05 351.38 L57.3 351.37 L57.55 351.36 L57.8 351.34 L58.05 351.33 L58.3 351.32 L58.55 351.3 L58.8 351.28 L59.05 351.27 L59.3 351.25 L59.55 351.23 L59.8 351.21 L60.05 351.19 L60.3 351.16 L60.55 351.14 L60.8 351.12 L61.05 351.1 L61.3 351.07 L61.55 351.04 L61.8 351.02 L62.05 350.99 L62.3 350.95 L62.55 350.92 L62.8 350.89 L63.05 350.85 L63.3 350.81 L63.55 350.77 L63.8 350.73 L64.05 350.69 L64.3 350.64 L64.55 350.6 L64.8 350.55 L65.05 350.5 L65.3 350.45 L65.55 350.4 L65.8 350.34 L66.05 350.29 L66.3 350.23 L66.55 350.16 L66.8 350.09 L67.05 350.02 L67.3 349.94 L67.55 349.86 L67.8 349.77 L68.05 349.68 L68.3 349.58 L68.55 349.48 L68.8 349.38 L69.05 349.28 L69.3 349.16 L69.55 349.04 L69.8 348.91 L70.05 348.77 L70.3 348.64 L70.55 348.52 L70.8 348.4 L71.05 348.31 L71.3 348.22 L71.55 348.14 L71.8 348.05 L72.05 347.96 L72.3 347.86 L72.55 347.75 L72.8 347.63 L73.05 347.5 L73.3 347.37 L73.55 347.23 L73.8 347.09 L74.05 346.97 L74.3 346.85 L74.55 346.75 L74.8 346.67 L75.05 346.6 L75.3 346.52 L75.55 346.45 L75.8 346.37 L76.05 346.26 L76.3 346.12 L76.55 345.92 L76.8 345.68 L77.05 345.39 L77.3 345.07 L77.55 344.71 L77.8 344.35 L78.05 343.99 L78.3 343.64 L78.55 343.3 L78.8 342.96 L79.05 342.62 L79.3 342.29 L79.55 341.96 L79.8 341.62 L80.05 341.21 L80.3 340.7 L80.55 340.1 L80.8 339.4 L81.05 338.61 L81.3 337.75 L81.55 336.84 L81.8 335.82 L82.05 334.67 L82.3 333.3 L82.55 331.41 L82.8 329.57 L83.05 328.37 L83.3 327.58 L83.55 326.73 L83.8 325.26 L84.05 322.28 L84.3 318.4 L84.55 314.53 L84.8 311.5 L85.05 309.01 L85.3 306.73 L85.55 304.49 L85.8 302.12 L86.05 299.43 L86.3 296.49 L86.55 293.36 L86.8 290.07 L87.05 286.62 L87.3 283.04 L87.55 279.34 L87.8 275.54 L88.05 271.58 L88.3 267.21 L88.55 262.63 L88.8 258.09 L89.05 253.8 L89.3 249.9 L89.55 246.2 L89.8 242.64 L90.05 239.15 L90.3 235.68 L90.55 232.16 L90.8 228.56 L91.05 225.05 L91.3 221.59 L91.55 218.11 L91.8 214.53 L92.05 210.75 L92.3 206.71 L92.55 202.32 L92.8 197.55 L93.05 192.43 L93.3 186.97 L93.55 181.19 L93.8 174.96 L94.05 168.12 L94.3 160.89 L94.55 153.51 L94.8 145.74 L95.05 137.74 L95.3 130 L95.55 122.28 L95.8 114.87 L96.05 108.97 L96.3 104.28 L96.55 100.3 L96.8 96.96 L97.05 94.11 L97.3 91.62 L97.55 89.5 L97.8 87.68 L98.05 86.15 L98.3 85.22 L98.55 84.57 L98.8 84.3 L99.05 84.58 L99.3 85.24 L99.55 86.1 L99.8 87.38 L100.05 88.9 L100.3 90.53 L100.55 92.39 L100.8 94.38 L101.05 96.41 L101.3 98.52 L101.55 100.75 L101.8 103.09 L102.05 105.51 L102.3 107.99 L102.55 110.51 L102.8 113.07 L103.05 115.68 L103.3 118.36 L103.55 121.11 L103.8 123.97 L104.05 126.92 L104.3 130 L104.55 133.27 L104.8 136.77 L105.05 140.4 L105.3 144.11 L105.55 147.81 L105.8 151.45 L106.05 155.1 L106.3 158.78 L106.55 162.47 L106.8 166.15 L107.05 169.82 L107.3 173.47 L107.55 177.27 L107.8 181.14 L108.05 184.97 L108.3 188.63 L108.55 192.02 L108.8 195 L109.05 197.66 L109.3 200.15 L109.55 202.48 L109.8 204.67 L110.05 206.7 L110.3 208.59 L110.55 210.34 L110.8 212 L111.05 213.57 L111.3 215.04 L111.55 216.42 L111.8 217.7 L112.05 218.86 L112.3 219.9 L112.55 220.83 L112.8 221.67 L113.05 222.45 L113.3 223.2 L113.55 223.94 L113.8 224.66 L114.05 225.34 L114.3 225.96 L114.55 226.5 L114.8 226.97 L115.05 227.42 L115.3 227.84 L115.55 228.21 L115.8 228.53 L116.05 228.78 L116.3 228.97 L116.55 229.13 L116.8 229.28 L117.05 229.41 L117.3 229.51 L117.55 229.58 L117.8 229.6 L118.05 229.58 L118.3 229.53 L118.55 229.44 L118.8 229.33 L119.05 229.2 L119.3 229.06 L119.55 228.89 L119.8 228.62 L120.05 228.25 L120.3 227.82 L120.55 227.33 L120.8 226.8 L121.05 226.21 L121.3 225.49 L121.55 224.6 L121.8 223.5 L122.05 221.84 L122.3 219.49 L122.55 216.78 L122.8 214 L123.05 211.18 L123.3 208.13 L123.55 204.88 L123.8 201.43 L124.05 197.75 L124.3 193.7 L124.55 189.41 L124.8 185 L125.05 180.33 L125.3 175.47 L125.55 170.85 L125.8 166.81 L126.05 163.11 L126.3 159.35 L126.55 155.23 L126.8 150.63 L127.05 145.73 L127.3 140.73 L127.55 135.8 L127.8 130.98 L128.05 126.25 L128.3 121.87 L128.55 118.01 L128.8 114.36 L129.05 111.25 L129.3 109.01 L129.55 107.21 L129.8 105.92 L130.05 105.32 L130.3 104.95 L130.55 104.81 L130.8 105.06 L131.05 105.74 L131.3 106.66 L131.55 107.89 L131.8 109.46 L132.05 111.08 L132.3 112.52 L132.55 113.76 L132.8 114.93 L133.05 116.12 L133.3 117.36 L133.55 118.68 L133.8 120.07 L134.05 121.52 L134.3 123.03 L134.55 124.61 L134.8 126.25 L135.05 127.98 L135.3 129.86 L135.55 131.9 L135.8 134.07 L136.05 136.36 L136.3 138.77 L136.55 141.48 L136.8 144.37 L137.05 147.26 L137.3 150 L137.55 152.52 L137.8 154.94 L138.05 157.33 L138.3 159.8 L138.55 162.44 L138.8 165.29 L139.05 168.3 L139.3 171.48 L139.55 174.87 L139.8 178.51 L140.05 182.65 L140.3 187.01 L140.55 191.21 L140.8 195.08 L141.05 198.83 L141.3 202.37 L141.55 205.62 L141.8 208.47 L142.05 211.12 L142.3 213.84 L142.55 216.82 L142.8 219.96 L143.05 223.22 L143.3 226.61 L143.55 230.18 L143.8 234.03 L144.05 237.86 L144.3 241.38 L144.55 244.85 L144.8 248 L145.05 250.42 L145.3 252.53 L145.55 254.41 L145.8 255.74 L146.05 256.23 L146.3 256.38 L146.55 256.47 L146.8 256.5 L147.05 255.76 L147.3 254.08 L147.55 252.3 L147.8 250.8 L148.05 249.23 L148.3 247.82 L148.55 246.84 L148.8 246.12 L149.05 245.55 L149.3 245.2 L149.55 245.02 L149.8 244.91 L150.05 244.81 L150.3 244.67 L150.55 244.47 L150.8 244.18 L151.05 243.77 L151.3 243.2 L151.55 241.73 L151.8 239.49 L152.05 237.72 L152.3 236.24 L152.55 235.01 L152.8 234.5 L153.05 234.5 L153.3 234.51 L153.55 234.53 L153.8 234.55 L154.05 234.57 L154.3 234.6 L154.55 234.64 L154.8 234.72 L155.05 234.82 L155.3 234.93 L155.55 235.06 L155.8 235.2 L156.05 235.35 L156.3 235.54 L156.55 235.77 L156.8 236.06 L157.05 236.48 L157.3 237.2 L157.55 238.13 L157.8 239.17 L158.05 240.21 L158.3 241.35 L158.55 242.62 L158.8 243.94 L159.05 245.25 L159.3 246.5 L159.55 247.84 L159.8 249.18 L160.05 250.35 L160.3 251.2 L160.55 251.83 L160.8 252.38 L161.05 252.73 L161.3 252.77 L161.55 252.46 L161.8 251.94 L162.05 251.34 L162.3 250.78 L162.55 250.15 L162.8 249.46 L163.05 248.73 L163.3 248 L163.55 247.28 L163.8 246.56 L164.05 245.8 L164.3 244.96 L164.55 244.02 L164.8 242.96 L165.05 241.81 L165.3 240.58 L165.55 239.3 L165.8 238 L166.05 236.59 L166.3 235.04 L166.55 233.48 L166.8 232.02 L167.05 230.77 L167.3 229.65 L167.55 228.6 L167.8 227.64 L168.05 226.77 L168.3 226 L168.55 225.27 L168.8 224.57 L169.05 223.98 L169.3 223.58 L169.55 223.42 L169.8 223.3 L170.05 223.23 L170.3 223.2 L170.55 223.31 L170.8 223.61 L171.05 224.02 L171.3 224.5 L171.55 225.14 L171.8 226.06 L172.05 227.19 L172.3 228.46 L172.55 229.93 L172.8 231.84 L173.05 234.02 L173.3 236.19 L173.55 238.22 L173.8 240.33 L174.05 242.41 L174.3 244.28 L174.55 245.76 L174.8 246.99 L175.05 248.06 L175.3 249 L175.55 249.84 L175.8 250.58 L176.05 251.23 L176.3 251.82 L176.55 252.39 L176.8 253 L177.05 253.62 L177.3 254.23 L177.55 254.85 L177.8 255.52 L178.05 256.25 L178.3 257.09 L178.55 258.01 L178.8 258.97 L179.05 259.93 L179.3 260.88 L179.55 261.89 L179.8 262.92 L180.05 263.89 L180.3 264.72 L180.55 265.4 L180.8 266.08 L181.05 266.68 L181.3 267.09 L181.55 267.2 L181.8 267.13 L182.05 267 L182.3 266.83 L182.55 266.64 L182.8 266.43 L183.05 266.15 L183.3 265.84 L183.55 265.51 L183.8 265.2 L184.05 264.89 L184.3 264.56 L184.55 264.25 L184.8 263.97 L185.05 263.76 L185.3 263.61 L185.55 263.47 L185.8 263.35 L186.05 263.23 L186.3 263.09 L186.55 262.96 L186.8 262.82 L187.05 262.66 L187.3 262.47 L187.55 262.24 L187.8 261.96 L188.05 261.63 L188.3 261.24 L188.55 260.76 L188.8 260.2 L189.05 259.58 L189.3 258.94 L189.55 258.28 L189.8 257.59 L190.05 256.82 L190.3 256.01 L190.55 255.18 L190.8 254.38 L191.05 253.64 L191.3 252.96 L191.55 252.32 L191.8 251.69 L192.05 251.09 L192.3 250.52 L192.55 249.98 L192.8 249.46 L193.05 248.93 L193.3 248.42 L193.55 247.96 L193.8 247.57 L194.05 247.29 L194.3 247.04 L194.55 246.83 L194.8 246.67 L195.05 246.6 L195.3 246.61 L195.55 246.63 L195.8 246.66 L196.05 246.71 L196.3 246.77 L196.55 246.83 L196.8 246.94 L197.05 247.1 L197.3 247.3 L197.55 247.51 L197.8 247.72 L198.05 247.91 L198.3 248.09 L198.55 248.28 L198.8 248.48 L199.05 248.67 L199.3 248.86 L199.55 249.05 L199.8 249.24 L200.05 249.42 L200.3 249.6 L200.55 249.79 L200.8 249.99 L201.05 250.18 L201.3 250.36 L201.55 250.53 L201.8 250.69 L202.05 250.82 L202.3 250.93 L202.55 251.02 L202.8 251.12 L203.05 251.21 L203.3 251.29 L203.55 251.37 L203.8 251.44 L204.05 251.49 L204.3 251.54 L204.55 251.57 L204.8 251.59 L205.05 251.57 L205.3 251.54 L205.55 251.48 L205.8 251.4 L206.05 251.32 L206.3 251.22 L206.55 251.12 L206.8 251.02 L207.05 250.91 L207.3 250.77 L207.55 250.61 L207.8 250.42 L208.05 250.22 L208.3 250.02 L208.55 249.8 L208.8 249.59 L209.05 249.36 L209.3 249.11 L209.55 248.84 L209.8 248.56 L210.05 248.28 L210.3 248.01 L210.55 247.77 L210.8 247.53 L211.05 247.28 L211.3 247.03 L211.55 246.8 L211.8 246.6 L212.05 246.45 L212.3 246.36 L212.55 246.29 L212.8 246.22 L213.05 246.17 L213.3 246.13 L213.55 246.1 L213.8 246.11 L214.05 246.25 L214.3 246.52 L214.55 246.87 L214.8 247.27 L215.05 247.69 L215.3 248.23 L215.55 248.91 L215.8 249.69 L216.05 250.51 L216.3 251.33 L216.55 252.25 L216.8 253.22 L217.05 254.19 L217.3 255.1 L217.55 255.93 L217.8 256.71 L218.05 257.46 L218.3 258.22 L218.55 258.99 L218.8 259.8 L219.05 260.66 L219.3 261.54 L219.55 262.45 L219.8 263.37 L220.05 264.29 L220.3 265.2 L220.55 266.13 L220.8 267.11 L221.05 268.1 L221.3 269.08 L221.55 270.03 L221.8 270.94 L222.05 271.77 L222.3 272.5 L222.55 273.15 L222.8 273.74 L223.05 274.3 L223.3 274.82 L223.55 275.32 L223.8 275.81 L224.05 276.3 L224.3 276.78 L224.55 277.24 L224.8 277.7 L225.05 278.14 L225.3 278.56 L225.55 278.97 L225.8 279.36 L226.05 279.75 L226.3 280.13 L226.55 280.48 L226.8 280.79 L227.05 281.05 L227.3 281.29 L227.55 281.5 L227.8 281.66 L228.05 281.7 L228.3 281.6 L228.55 281.39 L228.8 281.09 L229.05 280.73 L229.3 280.31 L229.55 279.58 L229.8 278.62 L230.05 277.54 L230.3 276.5 L230.55 275.44 L230.8 274.33 L231.05 273.29 L231.3 272.36 L231.55 271.44 L231.8 270.6 L232.05 269.91 L232.3 269.42 L232.55 268.98 L232.8 268.58 L233.05 268.25 L233.3 268.01 L233.55 267.9 L233.8 267.92 L234.05 267.98 L234.3 268.08 L234.55 268.21 L234.8 268.37 L235.05 268.54 L235.3 268.8 L235.55 269.15 L235.8 269.57 L236.05 270.01 L236.3 270.47 L236.55 271 L236.8 271.58 L237.05 272.18 L237.3 272.79 L237.55 273.38 L237.8 273.97 L238.05 274.59 L238.3 275.21 L238.55 275.82 L238.8 276.42 L239.05 276.98 L239.3 277.51 L239.55 278.05 L239.8 278.58 L240.05 279.01 L240.3 279.3 L240.55 279.48 L240.8 279.61 L241.05 279.67 L241.3 279.57 L241.55 279.25 L241.8 278.8 L242.05 278.31 L242.3 277.66 L242.55 276.84 L242.8 275.94 L243.05 275.07 L243.3 274.29 L243.55 273.49 L243.8 272.67 L244.05 271.91 L244.3 271.26 L244.55 270.79 L244.8 270.48 L245.05 270.19 L245.3 269.96 L245.55 269.81 L245.8 269.77 L246.05 269.81 L246.3 269.89 L246.55 269.94 L246.8 269.91 L247.05 269.73 L247.3 269.42 L247.55 269.06 L247.8 268.7 L248.05 268.34 L248.3 267.94 L248.55 267.5 L248.8 267.02 L249.05 266.5 L249.3 265.93 L249.55 265.22 L249.8 264.42 L250.05 263.65 L250.3 263.01 L250.55 262.44 L250.8 261.86 L251.05 261.39 L251.3 261.13 L251.55 261.15 L251.8 261.41 L252.05 261.82 L252.3 262.27 L252.55 262.68 L252.8 263.17 L253.05 263.72 L253.3 264.21 L253.55 264.54 L253.8 264.6 L254.05 264.6 L254.3 264.6 L254.55 264.6 L254.8 264.6 L255.05 264.6 L255.3 264.52 L255.55 264.38 L255.8 264.23 L256.05 264.12 L256.3 264.11 L256.55 264.24 L256.8 264.46 L257.05 264.75 L257.3 265.08 L257.55 265.4 L257.8 265.76 L258.05 266.19 L258.3 266.65 L258.55 267.13 L258.8 267.6 L259.05 268.07 L259.3 268.54 L259.55 269.02 L259.8 269.51 L260.05 270.01 L260.3 270.52 L260.55 271.07 L260.8 271.63 L261.05 272.19 L261.3 272.73 L261.55 273.24 L261.8 273.75 L262.05 274.26 L262.3 274.74 L262.55 275.16 L262.8 275.48 L263.05 275.73 L263.3 275.94 L263.55 276.13 L263.8 276.29 L264.05 276.43 L264.3 276.54 L264.55 276.63 L264.8 276.72 L265.05 276.81 L265.3 276.94 L265.55 277.12 L265.8 277.39 L266.05 277.71 L266.3 278.07 L266.55 278.46 L266.8 278.87 L267.05 279.32 L267.3 279.84 L267.55 280.41 L267.8 281 L268.05 281.59 L268.3 282.16 L268.55 282.71 L268.8 283.27 L269.05 283.82 L269.3 284.37 L269.55 284.91 L269.8 285.42 L270.05 285.89 L270.3 286.33 L270.55 286.75 L270.8 287.15 L271.05 287.54 L271.3 287.93 L271.55 288.32 L271.8 288.73 L272.05 289.16 L272.3 289.61 L272.55 290.08 L272.8 290.56 L273.05 291.04 L273.3 291.53 L273.55 292.02 L273.8 292.52 L274.05 293.04 L274.3 293.57 L274.55 294.08 L274.8 294.57 L275.05 295.03 L275.3 295.47 L275.55 295.9 L275.8 296.31 L276.05 296.7 L276.3 297.07 L276.55 297.42 L276.8 297.75 L277.05 298.06 L277.3 298.35 L277.55 298.64 L277.8 298.91 L278.05 299.19 L278.3 299.45 L278.55 299.72 L278.8 299.97 L279.05 300.22 L279.3 300.45 L279.55 300.69 L279.8 300.98 L280.05 301.25 L280.3 301.46 L280.55 301.56 L280.8 301.53 L281.05 301.48 L281.3 301.4 L281.55 301.32 L281.8 301.23 L282.05 301.13 L282.3 301.01 L282.55 300.85 L282.8 300.69 L283.05 300.53 L283.3 300.41 L283.55 300.35 L283.8 300.34 L284.05 300.35 L284.3 300.38 L284.55 300.43 L284.8 300.48 L285.05 300.54 L285.3 300.6 L285.55 300.69 L285.8 300.79 L286.05 300.9 L286.3 301.02 L286.55 301.15 L286.8 301.28 L287.05 301.43 L287.3 301.58 L287.55 301.75 L287.8 301.92 L288.05 302.09 L288.3 302.27 L288.55 302.45 L288.8 302.64 L289.05 302.82 L289.3 303.02 L289.55 303.22 L289.8 303.42 L290.05 303.63 L290.3 303.83 L290.55 304.04 L290.8 304.27 L291.05 304.52 L291.3 304.76 L291.55 304.99 L291.8 305.18 L292.05 305.33 L292.3 305.45 L292.55 305.57 L292.8 305.66 L293.05 305.7 L293.3 305.69 L293.55 305.65 L293.8 305.58 L294.05 305.5 L294.3 305.4 L294.55 305.26 L294.8 305.05 L295.05 304.79 L295.3 304.48 L295.55 304.15 L295.8 303.8 L296.05 303.39 L296.3 302.89 L296.55 302.34 L296.8 301.78 L297.05 301.26 L297.3 300.8 L297.55 300.38 L297.8 299.96 L298.05 299.62 L298.3 299.4 L298.55 299.27 L298.8 299.17 L299.05 299.11 L299.3 299.11 L299.55 299.22 L299.8 299.41 L300.05 299.65 L300.3 299.89 L300.55 300.15 L300.8 300.46 L301.05 300.8 L301.3 301.15 L301.55 301.48 L301.8 301.79 L302.05 302.11 L302.3 302.42 L302.55 302.72 L302.8 302.99 L303.05 303.22 L303.3 303.41 L303.55 303.58 L303.8 303.74 L304.05 303.9 L304.3 304.07 L304.55 304.25 L304.8 304.44 L305.05 304.62 L305.3 304.81 L305.55 304.98 L305.8 305.14 L306.05 305.29 L306.3 305.43 L306.55 305.56 L306.8 305.69 L307.05 305.81 L307.3 305.92 L307.55 306.03 L307.8 306.13 L308.05 306.22 L308.3 306.3"/>
<path stroke="#00bfbf" d="M56.3 353.9 L56.55 353.9 L56.8 353.9 L57.05 353.9 L57.3 353.9 L57.55 353.9 L57.8 353.9 L58.05 353.9 L58.3 353.9 L58.55 353.9 L58.8 353.9 L59.05 353.9 L59.3 353.9 L59.55 353.9 L59.8 353.9 L60.05 353.9 L60.3 353.9 L60.55 353.9 L60.8 353.9 L61.05 353.9 L61.3 353.9 L61.55 353.9 L61.8 353.9 L62.05 353.9 L62.3 353.9 L62.55 353.9 L62.8 353.89 L63.05 353.85 L63.3 353.81 L63.55 353.77 L63.8 353.73 L64.05 353.69 L64.3 353.65 L64.55 353.6 L64.8 353.55 L65.05 353.51 L65.3 353.46 L65.55 353.41 L65.8 353.36 L66.05 353.3 L66.3 353.25 L66.55 353.2 L66.8 353.15 L67.05 353.1 L67.3 353.05 L67.55 352.99 L67.8 352.94 L68.05 352.88 L68.3 352.82 L68.55 352.76 L68.8 352.69 L69.05 352.63 L69.3 352.54 L69.55 352.44 L69.8 352.32 L70.05 352.19 L70.3 352.05 L70.55 351.91 L70.8 351.77 L71.05 351.64 L71.3 351.52 L71.55 351.4 L71.8 351.3 L72.05 351.2 L72.3 351.1 L72.55 351 L72.8 350.91 L73.05 350.81 L73.3 350.71 L73.55 350.61 L73.8 350.5 L74.05 350.39 L74.3 350.29 L74.55 350.19 L74.8 350.09 L75.05 349.99 L75.3 349.89 L75.55 349.77 L75.8 349.65 L76.05 349.51 L76.3 349.36 L76.55 349.17 L76.8 348.94 L77.05 348.67 L77.3 348.39 L77.55 348.08 L77.8 347.76 L78.05 347.45 L78.3 347.15 L78.55 346.88 L78.8 346.62 L79.05 346.34 L79.3 346.04 L79.55 345.71 L79.8 345.38 L80.05 345.02 L80.3 344.64 L80.55 344.2 L80.8 343.69 L81.05 343.06 L81.3 342.35 L81.55 341.57 L81.8 340.73 L82.05 339.86 L82.3 338.93 L82.55 337.94 L82.8 336.87 L83.05 335.7 L83.3 334.4 L83.55 332.81 L83.8 330.87 L84.05 329.19 L84.3 328.17 L84.55 327.42 L84.8 326.51 L85.05 324.78 L85.3 321.51 L85.55 317.46 L85.8 313.61 L86.05 310.68 L86.3 308.14 L86.55 305.75 L86.8 303.3 L87.05 300.56 L87.3 297.44 L87.55 294.07 L87.8 290.47 L88.05 286.69 L88.3 282.72 L88.55 278.61 L88.8 274.38 L89.05 269.83 L89.3 264.86 L89.55 259.79 L89.8 254.95 L90.05 250.59 L90.3 246.49 L90.55 242.55 L90.8 238.68 L91.05 234.8 L91.3 230.84 L91.55 226.83 L91.8 222.92 L92.05 219.02 L92.3 215.01 L92.55 210.77 L92.8 206.18 L93.05 201.14 L93.3 195.63 L93.55 189.68 L93.8 183.33 L94.05 176.52 L94.3 168.95 L94.55 160.9 L94.8 152.66 L95.05 143.96 L95.3 135.04 L95.55 126.39 L95.8 117.68 L96.05 110.36 L96.3 104.97 L96.55 100.55 L96.8 96.97 L97.05 94.01 L97.3 91.42 L97.55 89.2 L97.8 87.26 L98.05 85.63 L98.3 84.61 L98.55 83.9 L98.8 83.6 L99.05 83.91 L99.3 84.63 L99.55 85.59 L99.8 86.99 L100.05 88.62 L100.3 90.37 L100.55 92.32 L100.8 94.37 L101.05 96.41 L101.3 98.52 L101.55 100.75 L101.8 103.09 L102.05 105.51 L102.3 107.99 L102.55 110.51 L102.8 113.07 L103.05 115.68 L103.3 118.36 L103.55 121.11 L103.8 123.97 L104.05 126.92 L104.3 130 L104.55 133.27 L104.8 136.77 L105.05 140.4 L105.3 144.11 L105.55 147.81 L105.8 151.45 L106.05 155.1 L106.3 158.78 L106.55 162.47 L106.8 166.15 L107.05 169.82 L107.3 173.47 L107.55 177.27 L107.8 181.14 L108.05 184.97 L108.3 188.63 L108.55 192.02 L108.8 195 L109.05 197.66 L109.3 200.15 L109.55 202.48 L109.8 204.67 L110.05 206.7 L110.3 208.59 L110.55 210.34 L110.8 212 L111.05 213.57 L111.3 215.04 L111.55 216.42 L111.8 217.7 L112.05 218.86 L112.3 219.9 L112.55 220.83 L112.8 221.67 L113.05 222.45 L113.3 223.2 L113.55 223.94 L113.8 224.66 L114.05 225.34 L114.3 225.96 L114.55 226.5 L114.8 226.97 L115.05 227.42 L115.3 227.84 L115.55 228.21 L115.8 228.53 L116.05 228.79 L116.3 229.06 L116.55 229.41 L116.8 229.81 L117.05 230.21 L117.3 230.59 L117.55 230.88 L117.8 231.06 L118.05 231.08 L118.3 230.94 L118.55 230.66 L118.8 230.31 L119.05 229.9 L119.3 229.48 L119.55 229.08 L119.8 228.66 L120.05 228.25 L120.3 227.82 L120.55 227.33 L120.8 226.8 L121.05 226.21 L121.3 225.49 L121.55 224.6 L121.8 223.5 L122.05 221.84 L122.3 219.49 L122.55 216.78 L122.8 214 L123.05 211.18 L123.3 208.13 L123.55 204.88 L123.8 201.43 L124.05 197.75 L124.3 193.7 L124.55 189.41 L124.8 185 L125.05 180.33 L125.3 175.47 L125.55 170.85 L125.8 166.81 L126.05 163.11 L126.3 159.39 L126.55 155.37 L126.8 150.9 L127.05 146.16 L127.3 141.32 L127.55 136.56 L127.8 131.88 L128.05 127.27 L128.3 123 L128.55 119.26 L128.8 115.73 L129.05 112.74 L129.3 110.62 L129.55 108.91 L129.8 107.71 L130.05 107.17 L130.3 106.84 L130.55 106.71 L130.8 106.87 L131.05 107.37 L131.3 108.05 L131.55 109.02 L131.8 110.32 L132.05 111.71 L132.3 112.98 L132.55 114.16 L132.8 115.28 L133.05 116.39 L133.3 117.54 L133.55 118.8 L133.8 120.14 L134.05 121.56 L134.3 123.06 L134.55 124.62 L134.8 126.26 L135.05 127.98 L135.3 129.86 L135.55 131.89 L135.8 134.07 L136.05 136.36 L136.3 138.77 L136.55 141.48 L136.8 144.37 L137.05 147.26 L137.3 150 L137.55 152.52 L137.8 154.94 L138.05 157.33 L138.3 159.8 L138.55 162.44 L138.8 165.29 L139.05 168.3 L139.3 171.48 L139.55 174.87 L139.8 178.51 L140.05 182.65 L140.3 187.01 L140.55 191.21 L140.8 195.08 L141.05 198.83 L141.3 202.37 L141.55 205.62 L141.8 208.47 L142.05 211.12 L142.3 213.84 L142.55 216.82 L142.8 219.96 L143.05 223.22 L143.3 226.61 L143.55 230.18 L143.8 234.03 L144.05 237.86 L144.3 241.38 L144.55 244.85 L144.8 248 L145.05 250.42 L145.3 252.53 L145.55 254.41 L145.8 255.74 L146.05 256.23 L146.3 256.38 L146.55 256.47 L146.8 256.5 L147.05 255.76 L147.3 254.08 L147.55 252.3 L147.8 250.8 L148.05 249.23 L148.3 247.82 L148.55 246.84 L148.8 246.12 L149.05 245.55 L149.3 245.2 L149.55 245.02 L149.8 244.91 L150.05 244.81 L150.3 244.67 L150.55 244.47 L150.8 244.18 L151.05 243.77 L151.3 243.2 L151.55 241.73 L151.8 239.49 L152.05 237.72 L152.3 236.24 L152.55 235.01 L152.8 234.5 L153.05 234.5 L153.3 234.51 L153.55 234.53 L153.8 234.55 L154.05 234.57 L154.3 234.6 L154.55 234.64 L154.8 234.72 L155.05 234.82 L155.3 234.93 L155.55 235.06 L155.8 235.2 L156.05 235.35 L156.3 235.54 L156.55 235.77 L156.8 236.06 L157.05 236.48 L157.3 237.2 L157.55 238.13 L157.8 239.17 L158.05 240.21 L158.3 241.35 L158.55 242.62 L158.8 243.94 L159.05 245.25 L159.3 246.5 L159.55 247.84 L159.8 249.18 L160.05 250.35 L160.3 251.2 L160.55 251.83 L160.8 252.38 L161.05 252.73 L161.3 252.77 L161.55 252.46 L161.8 251.94 L162.05 251.34 L162.3 250.78 L162.55 250.15 L162.8 249.46 L163.05 248.73 L163.3 248 L163.55 247.28 L163.8 246.56 L164.05 245.8 L164.3 244.96 L164.55 244.02 L164.8 242.96 L165.05 241.81 L165.3 240.58 L165.55 239.3 L165.8 238 L166.05 236.59 L166.3 235.04 L166.55 233.48 L166.8 232.02 L167.05 230.77 L167.3 229.65 L167.55 228.6 L167.8 227.64 L168.05 226.77 L168.3 226 L168.55 225.27 L168.8 224.57 L169.05 223.98 L169.3 223.58 L169.55 223.42 L169.8 223.3 L170.05 223.23 L170.3 223.2 L170.55 223.31 L170.8 223.61 L171.05 224.02 L171.3 224.5 L171.55 225.14 L171.8 226.06 L172.05 227.19 L172.3 228.46 L172.55 229.93 L172.8 231.84 L173.05 234.02 L173.3 236.19 L173.55 238.22 L173.8 240.33 L174.05 242.41 L174.3 244.28 L174.55 245.76 L174.8 246.99 L175.05 248.06 L175.3 249 L175.55 249.84 L175.8 250.58 L176.05 251.23 L176.3 251.82 L176.55 252.39 L176.8 253 L177.05 253.62 L177.3 254.23 L177.55 254.85 L177.8 255.52 L178.05 256.25 L178.3 257.09 L178.55 258.01 L178.8 258.97 L179.05 259.93 L179.3 260.88 L179.55 261.89 L179.8 262.92 L180.05 263.89 L180.3 264.72 L180.55 265.4 L180.8 266.08 L181.05 266.68 L181.3 267.09 L181.55 267.2 L181.8 267.13 L182.05 267 L182.3 266.83 L182.55 266.64 L182.8 266.43 L183.05 266.15 L183.3 265.84 L183.55 265.51 L183.8 265.2 L184.05 264.89 L184.3 264.56 L184.55 264.25 L184.8 263.97 L185.05 263.76 L185.3 263.61 L185.55 263.47 L185.8 263.35 L186.05 263.23 L186.3 263.09 L186.55 262.94 L186.8 262.78 L187.05 262.59 L187.3 262.36 L187.55 262.08 L187.8 261.75 L188.05 261.37 L188.3 260.92 L188.55 260.36 L188.8 259.74 L189.05 259.05 L189.3 258.33 L189.55 257.59 L189.8 256.82 L190.05 255.97 L190.3 255.07 L190.55 254.16 L190.8 253.28 L191.05 252.46 L191.3 251.7 L191.55 250.97 L191.8 250.27 L192.05 249.6 L192.3 248.95 L192.55 248.34 L192.8 247.76 L193.05 247.17 L193.3 246.61 L193.55 246.1 L193.8 245.67 L194.05 245.35 L194.3 245.08 L194.55 244.85 L194.8 244.68 L195.05 244.6 L195.3 244.61 L195.55 244.63 L195.8 244.67 L196.05 244.72 L196.3 244.78 L196.55 244.86 L196.8 244.97 L197.05 245.14 L197.3 245.34 L197.55 245.56 L197.8 245.78 L198.05 245.98 L198.3 246.18 L198.55 246.38 L198.8 246.59 L199.05 246.79 L199.3 247 L199.55 247.2 L199.8 247.4 L200.05 247.6 L200.3 247.8 L200.55 248.01 L200.8 248.22 L201.05 248.42 L201.3 248.62 L201.55 248.81 L201.8 248.98 L202.05 249.13 L202.3 249.26 L202.55 249.37 L202.8 249.48 L203.05 249.59 L203.3 249.69 L203.55 249.78 L203.8 249.86 L204.05 249.94 L204.3 250 L204.55 250.05 L204.8 250.07 L205.05 250.08 L205.3 250.05 L205.55 250.01 L205.8 249.95 L206.05 249.87 L206.3 249.79 L206.55 249.7 L206.8 249.61 L207.05 249.5 L207.3 249.37 L207.55 249.22 L207.8 249.04 L208.05 248.86 L208.3 248.66 L208.55 248.46 L208.8 248.25 L209.05 248.04 L209.3 247.79 L209.55 247.54 L209.8 247.27 L210.05 247.01 L210.3 246.76 L210.55 246.53 L210.8 246.31 L211.05 246.07 L211.3 245.84 L211.55 245.63 L211.8 245.46 L212.05 245.34 L212.3 245.27 L212.55 245.23 L212.8 245.2 L213.05 245.18 L213.3 245.17 L213.55 245.18 L213.8 245.23 L214.05 245.42 L214.3 245.72 L214.55 246.12 L214.8 246.57 L215.05 247.03 L215.3 247.62 L215.55 248.35 L215.8 249.18 L216.05 250.04 L216.3 250.91 L216.55 251.87 L216.8 252.89 L217.05 253.9 L217.3 254.85 L217.55 255.72 L217.8 256.54 L218.05 257.33 L218.3 258.11 L218.55 258.91 L218.8 259.74 L219.05 260.62 L219.3 261.52 L219.55 262.44 L219.8 263.37 L220.05 264.29 L220.3 265.2 L220.55 266.13 L220.8 267.11 L221.05 268.1 L221.3 269.08 L221.55 270.03 L221.8 270.94 L222.05 271.77 L222.3 272.5 L222.55 273.15 L222.8 273.74 L223.05 274.3 L223.3 274.82 L223.55 275.32 L223.8 275.81 L224.05 276.3 L224.3 276.78 L224.55 277.24 L224.8 277.7 L225.05 278.14 L225.3 278.56 L225.55 278.97 L225.8 279.36 L226.05 279.75 L226.3 280.13 L226.55 280.48 L226.8 280.79 L227.05 281.05 L227.3 281.29 L227.55 281.5 L227.8 281.66 L228.05 281.7 L228.3 281.6 L228.55 281.39 L228.8 281.09 L229.05 280.73 L229.3 280.31 L229.55 279.58 L229.8 278.62 L230.05 277.54 L230.3 276.5 L230.55 275.44 L230.8 274.33 L231.05 273.29 L231.3 272.36 L231.55 271.44 L231.8 270.6 L232.05 269.91 L232.3 269.42 L232.55 268.98 L232.8 268.58 L233.05 268.25 L233.3 268.01 L233.55 267.9 L233.8 267.92 L234.05 267.98 L234.3 268.08 L234.55 268.21 L234.8 268.37 L235.05 268.54 L235.3 268.8 L235.55 269.15 L235.8 269.57 L236.05 270.01 L236.3 270.47 L236.55 271 L236.8 271.58 L237.05 272.18 L237.3 272.79 L237.55 273.38 L237.8 273.97 L238.05 274.59 L238.3 275.21 L238.55 275.82 L238.8 276.42 L239.05 276.98 L239.3 277.51 L239.55 278.05 L239.8 278.58 L240.05 279.01 L240.3 279.3 L240.55 279.48 L240.8 279.63 L241.05 279.7 L241.3 279.61 L241.55 279.31 L241.8 278.87 L242.05 278.4 L242.3 277.77 L242.55 276.98 L242.8 276.1 L243.05 275.26 L243.3 274.51 L243.55 273.73 L243.8 272.95 L244.05 272.22 L244.3 271.6 L244.55 271.16 L244.8 270.88 L245.05 270.63 L245.3 270.41 L245.55 270.23 L245.8 270.13 L246.05 270.09 L246.3 270.07 L246.55 270 L246.8 269.85 L247.05 269.53 L247.3 269.09 L247.55 268.6 L247.8 268.11 L248.05 267.64 L248.3 267.11 L248.55 266.52 L248.8 265.88 L249.05 265.19 L249.3 264.45 L249.55 263.55 L249.8 262.59 L250.05 261.65 L250.3 260.86 L250.55 260.16 L250.8 259.48 L251.05 258.93 L251.3 258.63 L251.55 258.65 L251.8 258.92 L252.05 259.33 L252.3 259.8 L252.55 260.22 L252.8 260.73 L253.05 261.3 L253.3 261.83 L253.55 262.18 L253.8 262.27 L254.05 262.3 L254.3 262.34 L254.55 262.37 L254.8 262.41 L255.05 262.45 L255.3 262.41 L255.55 262.31 L255.8 262.2 L256.05 262.13 L256.3 262.17 L256.55 262.34 L256.8 262.63 L257.05 262.99 L257.3 263.38 L257.55 263.77 L257.8 264.22 L258.05 264.73 L258.3 265.28 L258.55 265.84 L258.8 266.4 L259.05 266.95 L259.3 267.5 L259.55 268.07 L259.8 268.64 L260.05 269.21 L260.3 269.8 L260.55 270.41 L260.8 271.04 L261.05 271.66 L261.3 272.25 L261.55 272.8 L261.8 273.34 L262.05 273.87 L262.3 274.37 L262.55 274.81 L262.8 275.15 L263.05 275.42 L263.3 275.65 L263.55 275.86 L263.8 276.04 L264.05 276.19 L264.3 276.32 L264.55 276.43 L264.8 276.53 L265.05 276.64 L265.3 276.78 L265.55 276.98 L265.8 277.26 L266.05 277.6 L266.3 277.97 L266.55 278.38 L266.8 278.79 L267.05 279.25 L267.3 279.78 L267.55 280.36 L267.8 280.96 L268.05 281.56 L268.3 282.14 L268.55 282.69 L268.8 283.26 L269.05 283.82 L269.3 284.37 L269.55 284.91 L269.8 285.42 L270.05 285.89 L270.3 286.33 L270.55 286.75 L270.8 287.14 L271.05 287.52 L271.3 287.9 L271.55 288.29 L271.8 288.69 L272.05 289.11 L272.3 289.55 L272.55 290 L272.8 290.47 L273.05 290.94 L273.3 291.41 L273.55 291.88 L273.8 292.37 L274.05 292.88 L274.3 293.38 L274.55 293.88 L274.8 294.35 L275.05 294.79 L275.3 295.22 L275.55 295.62 L275.8 296.02 L276.05 296.39 L276.3 296.74 L276.55 297.08 L276.8 297.39 L277.05 297.68 L277.3 297.96 L277.55 298.23 L277.8 298.49 L278.05 298.75 L278.3 299.01 L278.55 299.26 L278.8 299.5 L279.05 299.74 L279.3 299.97 L279.55 300.2 L279.8 300.48 L280.05 300.75 L280.3 300.96 L280.55 301.05 L280.8 301.02 L281.05 300.96 L281.3 300.88 L281.55 300.79 L281.8 300.69 L282.05 300.59 L282.3 300.46 L282.55 300.3 L282.8 300.12 L283.05 299.96 L283.3 299.83 L283.55 299.75 L283.8 299.74 L284.05 299.74 L284.3 299.76 L284.55 299.8 L284.8 299.84 L285.05 299.89 L285.3 299.94 L285.55 300.01 L285.8 300.1 L286.05 300.2 L286.3 300.31 L286.55 300.43 L286.8 300.54 L287.05 300.68 L287.3 300.82 L287.55 300.97 L287.8 301.13 L288.05 301.29 L288.3 301.45 L288.55 301.62 L288.8 301.79 L289.05 301.97 L289.3 302.15 L289.55 302.33 L289.8 302.52 L290.05 302.71 L290.3 302.91 L290.55 303.1 L290.8 303.32 L291.05 303.55 L291.3 303.79 L291.55 304.01 L291.8 304.2 L292.05 304.33 L292.3 304.46 L292.55 304.57 L292.8 304.66 L293.05 304.7 L293.3 304.69 L293.55 304.66 L293.8 304.6 L294.05 304.54 L294.3 304.46 L294.55 304.34 L294.8 304.16 L295.05 303.92 L295.3 303.64 L295.55 303.34 L295.8 303.03 L296.05 302.65 L296.3 302.18 L296.55 301.66 L296.8 301.13 L297.05 300.63 L297.3 300.2 L297.55 299.8 L297.8 299.41 L298.05 299.08 L298.3 298.88 L298.55 298.77 L298.8 298.67 L299.05 298.61 L299.3 298.61 L299.55 298.72 L299.8 298.91 L300.05 299.14 L300.3 299.38 L300.55 299.64 L300.8 299.95 L301.05 300.29 L301.3 300.63 L301.55 300.96 L301.8 301.26 L302.05 301.57 L302.3 301.88 L302.55 302.17 L302.8 302.43 L303.05 302.65 L303.3 302.83 L303.55 302.99 L303.8 303.14 L304.05 303.28 L304.3 303.44 L304.55 303.6 L304.8 303.77 L305.05 303.94 L305.3 304.1 L305.55 304.26 L305.8 304.4 L306.05 304.53 L306.3 304.64 L306.55 304.75 L306.8 304.84 L307.05 304.94 L307.3 305.02 L307.55 305.09 L307.8 305.16 L308.05 305.21 L308.3 305.25"/>
<path stroke="#bf00bf" d="M56.3 353.69 L56.55 353.69 L56.8 353.68 L57.05 353.67 L57.3 353.66 L57.55 353.64 L57.8 353.63 L58.05 353.61 L58.3 353.59 L58.55 353.58 L58.8 353.56 L59.05 353.53 L59.3 353.51 L59.55 353.49 L59.8 353.46 L60.05 353.44 L60.3 353.41 L60.55 353.38 L60.8 353.35 L61.05 353.32 L61.3 353.29 L61.55 353.26 L61.8 353.22 L62.05 353.19 L62.3 353.15 L62.55 353.11 L62.8 353.07 L63.05 353.03 L63.3 352.98 L63.55 352.93 L63.8 352.88 L64.05 352.83 L64.3 352.77 L64.55 352.71 L64.8 352.65 L65.05 352.58 L65.3 352.52 L65.55 352.45 L65.8 352.37 L66.05 352.3 L66.3 352.21 L66.55 352.12 L66.8 352.02 L67.05 351.92 L67.3 351.8 L67.55 351.68 L67.8 351.56 L68.05 351.43 L68.3 351.3 L68.55 351.16 L68.8 351.02 L69.05 350.88 L69.3 350.74 L69.55 350.57 L69.8 350.39 L70.05 350.21 L70.3 350.03 L70.55 349.86 L70.8 349.7 L71.05 349.56 L71.3 349.44 L71.55 349.32 L71.8 349.22 L72.05 349.12 L72.3 349.02 L72.55 348.93 L72.8 348.84 L73.05 348.75 L73.3 348.65 L73.55 348.55 L73.8 348.45 L74.05 348.35 L74.3 348.25 L74.55 348.16 L74.8 348.07 L75.05 347.97 L75.3 347.86 L75.55 347.75 L75.8 347.62 L76.05 347.48 L76.3 347.31 L76.55 347.1 L76.8 346.85 L77.05 346.57 L77.3 346.27 L77.55 345.96 L77.8 345.63 L78.05 345.31 L78.3 345.01 L78.55 344.71 L78.8 344.41 L79.05 344.1 L79.3 343.76 L79.55 343.39 L79.8 342.98 L80.05 342.5 L80.3 341.93 L80.55 341.28 L80.8 340.56 L81.05 339.78 L81.3 338.96 L81.55 338.11 L81.8 337.2 L82.05 336.18 L82.3 335.04 L82.55 333.7 L82.8 331.86 L83.05 330.01 L83.3 328.75 L83.55 327.94 L83.8 327.12 L84.05 325.83 L84.3 323.11 L84.55 319.34 L84.8 315.41 L85.05 312.17 L85.3 309.59 L85.55 307.25 L85.8 304.99 L86.05 302.61 L86.3 299.94 L86.55 296.96 L86.8 293.79 L87.05 290.44 L87.3 286.93 L87.55 283.27 L87.8 279.48 L88.05 275.59 L88.3 271.52 L88.55 267.03 L88.8 262.32 L89.05 257.66 L89.3 253.31 L89.55 249.33 L89.8 245.56 L90.05 241.92 L90.3 238.33 L90.55 234.72 L90.8 231.03 L91.05 227.28 L91.3 223.63 L91.55 219.99 L91.8 216.28 L92.05 212.41 L92.3 208.27 L92.55 203.78 L92.8 198.88 L93.05 193.59 L93.3 187.94 L93.55 181.97 L93.8 175.57 L94.05 168.54 L94.3 161.14 L94.55 153.62 L94.8 145.76 L95.05 137.74 L95.3 130 L95.55 122.28 L95.8 114.87 L96.05 108.97 L96.3 104.28 L96.55 100.3 L96.8 96.98 L97.05 94.15 L97.3 91.7 L97.55 89.63 L97.8 87.86 L98.05 86.38 L98.3 85.49 L98.55 84.86 L98.8 84.6 L99.05 84.87 L99.3 85.5 L99.55 86.32 L99.8 87.55 L100.05 89.02 L100.3 90.61 L100.55 92.43 L100.8 94.39 L101.05 96.41 L101.3 98.52 L101.55 100.75 L101.8 103.09 L102.05 105.51 L102.3 107.99 L102.55 110.51 L102.8 113.07 L103.05 115.68 L103.3 118.36 L103.55 121.11 L103.8 123.97 L104.05 126.92 L104.3 130 L104.55 133.27 L104.8 136.77 L105.05 140.4 L105.3 144.11 L105.55 147.81 L105.8 151.45 L106.05 155.1 L106.3 158.78 L106.55 162.47 L106.8 166.15 L107.05 169.82 L107.3 173.47 L107.55 177.27 L107.8 181.14 L108.05 184.97 L108.3 188.63 L108.55 192.02 L108.8 195 L109.05 197.66 L109.3 200.15 L109.55 202.48 L109.8 204.67 L110.05 206.7 L110.3 208.59 L110.55 210.34 L110.8 212 L111.05 213.57 L111.3 215.04 L111.55 216.42 L111.8 217.7 L112.05 218.86 L112.3 219.9 L112.55 220.83 L112.8 221.67 L113.05 222.45 L113.3 223.2 L113.55 223.94 L113.8 224.66 L114.05 225.34 L114.3 225.96 L114.55 226.5 L114.8 226.97 L115.05 227.42 L115.3 227.84 L115.55 228.21 L115.8 228.53 L116.05 228.78 L116.3 228.97 L116.55 229.13 L116.8 229.28 L117.05 229.41 L117.3 229.51 L117.55 229.58 L117.8 229.6 L118.05 229.58 L118.3 229.53 L118.55 229.44 L118.8 229.33 L119.05 229.2 L119.3 229.06 L119.55 228.89 L119.8 228.62 L120.05 228.25 L120.3 227.82 L120.55 227.33 L120.8 226.8 L121.05 226.21 L121.3 225.49 L121.55 224.6 L121.8 223.5 L122.05 221.84 L122.3 219.49 L122.55 216.78 L122.8 214 L123.05 211.18 L123.3 208.13 L123.55 204.88 L123.8 201.43 L124.05 197.75 L124.3 193.7 L124.55 189.41 L124.8 185 L125.05 180.33 L125.3 175.47 L125.55 170.85 L125.8 166.81 L126.05 163.12 L126.3 159.49 L126.55 155.66 L126.8 151.47 L127.05 147.04 L127.3 142.5 L127.55 138.01 L127.8 133.54 L128.05 129.03 L128.3 124.84 L128.55 121.2 L128.8 117.78 L129.05 114.9 L129.3 112.89 L129.55 111.29 L129.8 110.18 L130.05 109.71 L130.3 109.42 L130.55 109.3 L130.8 109.44 L131.05 109.87 L131.3 110.45 L131.55 111.3 L131.8 112.47 L132.05 113.75 L132.3 114.91 L132.55 115.99 L132.8 117.05 L133.05 118.13 L133.3 119.26 L133.55 120.47 L133.8 121.75 L134.05 123.08 L134.3 124.46 L134.55 125.89 L134.8 127.38 L135.05 128.94 L135.3 130.65 L135.55 132.51 L135.8 134.52 L136.05 136.66 L136.3 138.94 L136.55 141.55 L136.8 144.39 L137.05 147.26 L137.3 150 L137.55 152.52 L137.8 154.94 L138.05 157.33 L138.3 159.8 L138.55 162.44 L138.8 165.29 L139.05 168.3 L139.3 171.48 L139.55 174.87 L139.8 178.51 L140.05 182.65 L140.3 187.01 L140.55 191.21 L140.8 195.08 L141.05 198.83 L141.3 202.37 L141.55 205.62 L141.8 208.47 L142.05 211.12 L142.3 213.84 L142.55 216.82 L142.8 219.96 L143.05 223.22 L143.3 226.61 L143.55 230.18 L143.8 234.03 L144.05 237.86 L144.3 241.38 L144.55 244.85 L144.8 248 L145.05 250.42 L145.3 252.53 L145.55 254.41 L145.8 255.74 L146.05 256.23 L146.3 256.38 L146.55 256.47 L146.8 256.5 L147.05 255.76 L147.3 254.08 L147.55 252.3 L147.8 250.8 L148.05 249.23 L148.3 247.82 L148.55 246.84 L148.8 246.12 L149.05 245.55 L149.3 245.2 L149.55 245.02 L149.8 244.91 L150.05 244.81 L150.3 244.67 L150.55 244.47 L150.8 244.18 L151.05 243.77 L151.3 243.2 L151.55 241.73 L151.8 239.49 L152.05 237.72 L152.3 236.24 L152.55 235.01 L152.8 234.5 L153.05 234.5 L153.3 234.51 L153.55 234.53 L153.8 234.55 L154.05 234.57 L154.3 234.6 L154.55 234.64 L154.8 234.72 L155.05 234.82 L155.3 234.93 L155.55 235.06 L155.8 235.2 L156.05 235.35 L156.3 235.54 L156.55 235.77 L156.8 236.06 L157.05 236.48 L157.3 237.2 L157.55 238.13 L157.8 239.17 L158.05 240.21 L158.3 241.35 L158.55 242.62 L158.8 243.94 L159.05 245.25 L159.3 246.5 L159.55 247.84 L159.8 249.18 L160.05 250.35 L160.3 251.2 L160.55 251.83 L160.8 252.38 L161.05 252.73 L161.3 252.77 L161.55 252.46 L161.8 251.94 L162.05 251.34 L162.3 250.78 L162.55 250.15 L162.8 249.46 L163.05 248.73 L163.3 248 L163.55 247.28 L163.8 246.56 L164.05 245.8 L164.3 244.96 L164.55 244.02 L164.8 242.96 L165.05 241.81 L165.3 240.58 L165.55 239.3 L165.8 238 L166.05 236.59 L166.3 235.04 L166.55 233.48 L166.8 232.02 L167.05 230.77 L167.3 229.65 L167.55 228.6 L167.8 227.64 L168.05 226.77 L168.3 226 L168.55 225.27 L168.8 224.57 L169.05 223.98 L169.3 223.58 L169.55 223.42 L169.8 223.3 L170.05 223.23 L170.3 223.2 L170.55 223.31 L170.8 223.61 L171.05 224.02 L171.3 224.5 L171.55 225.14 L171.8 226.06 L172.05 227.19 L172.3 228.46 L172.55 229.93 L172.8 231.84 L173.05 234.02 L173.3 236.19 L173.55 238.22 L173.8 240.33 L174.05 242.41 L174.3 244.28 L174.55 245.76 L174.8 246.99 L175.05 248.06 L175.3 249 L175.55 249.84 L175.8 250.58 L176.05 251.23 L176.3 251.82 L176.55 252.39 L176.8 253 L177.05 253.62 L177.3 254.23 L177.55 254.85 L177.8 255.52 L178.05 256.25 L178.3 257.09 L178.55 258.01 L178.8 258.97 L179.05 259.93 L179.3 260.88 L179.55 261.89 L179.8 262.92 L180.05 263.89 L180.3 264.72 L180.55 265.4 L180.8 266.07 L181.05 266.67 L181.3 267.06 L181.55 267.17 L181.8 267.09 L182.05 266.95 L182.3 266.76 L182.55 266.56 L182.8 266.33 L183.05 266.04 L183.3 265.71 L183.55 265.37 L183.8 265.04 L184.05 264.71 L184.3 264.37 L184.55 264.03 L184.8 263.73 L185.05 263.5 L185.3 263.32 L185.55 263.16 L185.8 263.02 L186.05 262.87 L186.3 262.71 L186.55 262.57 L186.8 262.42 L187.05 262.25 L187.3 262.05 L187.55 261.81 L187.8 261.53 L188.05 261.21 L188.3 260.82 L188.55 260.35 L188.8 259.8 L189.05 259.2 L189.3 258.57 L189.55 257.92 L189.8 257.25 L190.05 256.5 L190.3 255.71 L190.55 254.9 L190.8 254.12 L191.05 253.4 L191.3 252.75 L191.55 252.12 L191.8 251.52 L192.05 250.94 L192.3 250.39 L192.55 249.86 L192.8 249.36 L193.05 248.86 L193.3 248.36 L193.55 247.91 L193.8 247.54 L194.05 247.27 L194.3 247.03 L194.55 246.83 L194.8 246.67 L195.05 246.6 L195.3 246.61 L195.55 246.63 L195.8 246.67 L196.05 246.71 L196.3 246.77 L196.55 246.84 L196.8 246.95 L197.05 247.11 L197.3 247.3 L197.55 247.51 L197.8 247.72 L198.05 247.91 L198.3 248.1 L198.55 248.29 L198.8 248.48 L199.05 248.67 L199.3 248.87 L199.55 249.06 L199.8 249.24 L200.05 249.42 L200.3 249.61 L200.55 249.8 L200.8 249.99 L201.05 250.19 L201.3 250.37 L201.55 250.54 L201.8 250.7 L202.05 250.83 L202.3 250.94 L202.55 251.03 L202.8 251.12 L203.05 251.21 L203.3 251.3 L203.55 251.37 L203.8 251.44 L204.05 251.5 L204.3 251.54 L204.55 251.57 L204.8 251.59 L205.05 251.57 L205.3 251.53 L205.55 251.47 L205.8 251.4 L206.05 251.31 L206.3 251.21 L206.55 251.11 L206.8 251 L207.05 250.89 L207.3 250.74 L207.55 250.57 L207.8 250.38 L208.05 250.18 L208.3 249.97 L208.55 249.75 L208.8 249.53 L209.05 249.3 L209.3 249.05 L209.55 248.77 L209.8 248.49 L210.05 248.21 L210.3 247.94 L210.55 247.7 L210.8 247.46 L211.05 247.21 L211.3 246.96 L211.55 246.73 L211.8 246.53 L212.05 246.39 L212.3 246.3 L212.55 246.24 L212.8 246.18 L213.05 246.13 L213.3 246.1 L213.55 246.08 L213.8 246.1 L214.05 246.25 L214.3 246.51 L214.55 246.87 L214.8 247.27 L215.05 247.69 L215.3 248.23 L215.55 248.91 L215.8 249.69 L216.05 250.51 L216.3 251.33 L216.55 252.24 L216.8 253.21 L217.05 254.18 L217.3 255.09 L217.55 255.91 L217.8 256.69 L218.05 257.44 L218.3 258.19 L218.55 258.96 L218.8 259.77 L219.05 260.62 L219.3 261.5 L219.55 262.4 L219.8 263.32 L220.05 264.23 L220.3 265.14 L220.55 266.07 L220.8 267.04 L221.05 268.02 L221.3 269 L221.55 269.95 L221.8 270.84 L222.05 271.67 L222.3 272.39 L222.55 273.03 L222.8 273.62 L223.05 274.17 L223.3 274.69 L223.55 275.18 L223.8 275.66 L224.05 276.14 L224.3 276.61 L224.55 277.07 L224.8 277.52 L225.05 277.95 L225.3 278.36 L225.55 278.76 L225.8 279.14 L226.05 279.52 L226.3 279.89 L226.55 280.24 L226.8 280.54 L227.05 280.79 L227.3 281.02 L227.55 281.22 L227.8 281.37 L228.05 281.4 L228.3 281.29 L228.55 281.07 L228.8 280.76 L229.05 280.4 L229.3 279.96 L229.55 279.23 L229.8 278.25 L230.05 277.17 L230.3 276.11 L230.55 275.04 L230.8 273.92 L231.05 272.87 L231.3 271.93 L231.55 271 L231.8 270.15 L232.05 269.45 L232.3 268.95 L232.55 268.5 L232.8 268.09 L233.05 267.74 L233.3 267.5 L233.55 267.38 L233.8 267.38 L234.05 267.44 L234.3 267.53 L234.55 267.65 L234.8 267.79 L235.05 267.95 L235.3 268.2 L235.55 268.55 L235.8 268.95 L236.05 269.39 L236.3 269.84 L236.55 270.36 L236.8 270.92 L237.05 271.51 L237.3 272.11 L237.55 272.7 L237.8 273.28 L238.05 273.88 L238.3 274.49 L238.55 275.1 L238.8 275.69 L239.05 276.24 L239.3 276.76 L239.55 277.29 L239.8 277.81 L240.05 278.23 L240.3 278.51 L240.55 278.69 L240.8 278.82 L241.05 278.88 L241.3 278.79 L241.55 278.48 L241.8 278.04 L242.05 277.56 L242.3 276.92 L242.55 276.11 L242.8 275.24 L243.05 274.38 L243.3 273.63 L243.55 272.84 L243.8 272.05 L244.05 271.31 L244.3 270.69 L244.55 270.25 L244.8 269.96 L245.05 269.71 L245.3 269.5 L245.55 269.38 L245.8 269.36 L246.05 269.44 L246.3 269.54 L246.55 269.62 L246.8 269.62 L247.05 269.47 L247.3 269.19 L247.55 268.86 L247.8 268.52 L248.05 268.18 L248.3 267.81 L248.55 267.38 L248.8 266.92 L249.05 266.42 L249.3 265.87 L249.55 265.18 L249.8 264.39 L250.05 263.63 L250.3 263 L250.55 262.43 L250.8 261.86 L251.05 261.39 L251.3 261.13 L251.55 261.16 L251.8 261.43 L252.05 261.85 L252.3 262.33 L252.55 262.76 L252.8 263.27 L253.05 263.85 L253.3 264.38 L253.55 264.73 L253.8 264.83 L254.05 264.87 L254.3 264.9 L254.55 264.94 L254.8 264.98 L255.05 265.02 L255.3 264.99 L255.55 264.89 L255.8 264.78 L256.05 264.71 L256.3 264.74 L256.55 264.9 L256.8 265.16 L257.05 265.49 L257.3 265.84 L257.55 266.18 L257.8 266.57 L258.05 267.01 L258.3 267.49 L258.55 267.98 L258.8 268.45 L259.05 268.91 L259.3 269.38 L259.55 269.85 L259.8 270.33 L260.05 270.81 L260.3 271.3 L260.55 271.82 L260.8 272.36 L261.05 272.89 L261.3 273.41 L261.55 273.89 L261.8 274.37 L262.05 274.85 L262.3 275.3 L262.55 275.69 L262.8 275.98 L263.05 276.2 L263.3 276.39 L263.55 276.55 L263.8 276.68 L264.05 276.78 L264.3 276.86 L264.55 276.92 L264.8 276.98 L265.05 277.04 L265.3 277.14 L265.55 277.3 L265.8 277.53 L266.05 277.83 L266.3 278.16 L266.55 278.53 L266.8 278.91 L267.05 279.33 L267.3 279.83 L267.55 280.37 L267.8 280.95 L268.05 281.52 L268.3 282.06 L268.55 282.59 L268.8 283.13 L269.05 283.68 L269.3 284.21 L269.55 284.73 L269.8 285.23 L270.05 285.7 L270.3 286.13 L270.55 286.54 L270.8 286.93 L271.05 287.32 L271.3 287.7 L271.55 288.09 L271.8 288.49 L272.05 288.92 L272.3 289.37 L272.55 289.84 L272.8 290.31 L273.05 290.8 L273.3 291.28 L273.55 291.77 L273.8 292.28 L274.05 292.8 L274.3 293.33 L274.55 293.84 L274.8 294.34 L275.05 294.8 L275.3 295.25 L275.55 295.68 L275.8 296.09 L276.05 296.49 L276.3 296.86 L276.55 297.22 L276.8 297.55 L277.05 297.87 L277.3 298.17 L277.55 298.46 L277.8 298.74 L278.05 299.02 L278.3 299.3 L278.55 299.57 L278.8 299.83 L279.05 300.08 L279.3 300.32 L279.55 300.57 L279.8 300.86 L280.05 301.14 L280.3 301.36 L280.55 301.46 L280.8 301.45 L281.05 301.4 L281.3 301.34 L281.55 301.26 L281.8 301.17 L282.05 301.09 L282.3 300.97 L282.55 300.82 L282.8 300.66 L283.05 300.52 L283.3 300.4 L283.55 300.34 L283.8 300.34 L284.05 300.36 L284.3 300.39 L284.55 300.44 L284.8 300.5 L285.05 300.56 L285.3 300.63 L285.55 300.72 L285.8 300.82 L286.05 300.94 L286.3 301.06 L286.55 301.19 L286.8 301.32 L287.05 301.47 L287.3 301.62 L287.55 301.79 L287.8 301.96 L288.05 302.13 L288.3 302.31 L288.55 302.48 L288.8 302.66 L289.05 302.85 L289.3 303.04 L289.55 303.23 L289.8 303.43 L290.05 303.62 L290.3 303.82 L290.55 304.03 L290.8 304.25 L291.05 304.48 L291.3 304.72 L291.55 304.94 L291.8 305.13 L292.05 305.26 L292.3 305.38 L292.55 305.49 L292.8 305.57 L293.05 305.61 L293.3 305.59 L293.55 305.54 L293.8 305.47 L294.05 305.38 L294.3 305.27 L294.55 305.13 L294.8 304.91 L295.05 304.64 L295.3 304.32 L295.55 303.98 L295.8 303.63 L296.05 303.22 L296.3 302.71 L296.55 302.15 L296.8 301.59 L297.05 301.05 L297.3 300.59 L297.55 300.16 L297.8 299.74 L298.05 299.38 L298.3 299.16 L298.55 299.03 L298.8 298.92 L299.05 298.85 L299.3 298.84 L299.55 298.95 L299.8 299.13 L300.05 299.37 L300.3 299.6 L300.55 299.86 L300.8 300.18 L301.05 300.52 L301.3 300.87 L301.55 301.21 L301.8 301.52 L302.05 301.84 L302.3 302.16 L302.55 302.46 L302.8 302.74 L303.05 302.98 L303.3 303.18 L303.55 303.35 L303.8 303.52 L304.05 303.69 L304.3 303.87 L304.55 304.07 L304.8 304.26 L305.05 304.46 L305.3 304.66 L305.55 304.85 L305.8 305.02 L306.05 305.18 L306.3 305.33 L306.55 305.48 L306.8 305.62 L307.05 305.76 L307.3 305.88 L307.55 306 L307.8 306.12 L308.05 306.22 L308.3 306.31"/>
<path stroke="#bfbf00" d="M56.3 353.9 L56.55 353.9 L56.8 353.9 L57.05 353.9 L57.3 353.9 L57.55 353.9 L57.8 353.9 L58.05 353.9 L58.3 353.9 L58.55 353.9 L58.8 353.9 L59.05 353.9 L59.3 353.9 L59.55 353.9 L59.8 353.9 L60.05 353.9 L60.3 353.9 L60.55 353.9 L60.8 353.9 L61.05 353.9 L61.3 353.9 L61.55 353.9 L61.8 353.9 L62.05 353.9 L62.3 353.9 L62.55 353.9 L62.8 353.89 L63.05 353.85 L63.3 353.81 L63.55 353.77 L63.8 353.73 L64.05 353.69 L64.3 353.65 L64.55 353.6 L64.8 353.55 L65.05 353.51 L65.3 353.46 L65.55 353.41 L65.8 353.36 L66.05 353.3 L66.3 353.25 L66.55 353.2 L66.8 353.15 L67.05 353.1 L67.3 353.05 L67.55 352.99 L67.8 352.94 L68.05 352.88 L68.3 352.82 L68.55 352.76 L68.8 352.69 L69.05 352.63 L69.3 352.54 L69.55 352.44 L69.8 352.32 L70.05 352.19 L70.3 352.05 L70.55 351.91 L70.8 351.77 L71.05 351.64 L71.3 351.52 L71.55 351.4 L71.8 351.3 L72.05 351.2 L72.3 351.1 L72.55 351 L72.8 350.91 L73.05 350.81 L73.3 350.71 L73.55 350.61 L73.8 350.5 L74.05 350.39 L74.3 350.29 L74.55 350.19 L74.8 350.09 L75.05 349.99 L75.3 349.89 L75.55 349.77 L75.8 349.65 L76.05 349.51 L76.3 349.36 L76.55 349.17 L76.8 348.94 L77.05 348.67 L77.3 348.39 L77.55 348.08 L77.8 347.76 L78.05 347.45 L78.3 347.15 L78.55 346.89 L78.8 346.63 L79.05 346.35 L79.3 346.05 L79.55 345.73 L79.8 345.4 L80.05 345.05 L80.3 344.66 L80.55 344.22 L80.8 343.7 L81.05 343.06 L81.3 342.32 L81.55 341.5 L81.8 340.64 L82.05 339.73 L82.3 338.77 L82.55 337.74 L82.8 336.61 L83.05 335.37 L83.3 334 L83.55 332.18 L83.8 330.2 L84.05 328.74 L84.3 327.87 L84.55 327.11 L84.8 326 L85.05 323.63 L85.3 319.96 L85.55 315.88 L85.8 312.4 L86.05 309.68 L86.3 307.22 L86.55 304.83 L86.8 302.3 L87.05 299.41 L87.3 296.18 L87.55 292.72 L87.8 289.05 L88.05 285.2 L88.3 281.18 L88.55 277.02 L88.8 272.73 L89.05 267.99 L89.3 262.95 L89.55 257.95 L89.8 253.29 L90.05 249.08 L90.3 245.09 L90.55 241.23 L90.8 237.43 L91.05 233.61 L91.3 229.68 L91.55 225.79 L91.8 221.98 L92.05 218.15 L92.3 214.2 L92.55 210 L92.8 205.45 L93.05 200.46 L93.3 195.02 L93.55 189.16 L93.8 182.9 L94.05 176.18 L94.3 168.71 L94.55 160.75 L94.8 152.61 L95.05 143.98 L95.3 135.09 L95.55 126.46 L95.8 117.75 L96.05 110.4 L96.3 104.99 L96.55 100.56 L96.8 97 L97.05 94.08 L97.3 91.56 L97.55 89.42 L97.8 87.56 L98.05 86 L98.3 85.05 L98.55 84.38 L98.8 84.1 L99.05 84.39 L99.3 85.07 L99.55 85.96 L99.8 87.27 L100.05 88.82 L100.3 90.49 L100.55 92.37 L100.8 94.38 L101.05 96.41 L101.3 98.52 L101.55 100.75 L101.8 103.09 L102.05 105.51 L102.3 107.99 L102.55 110.51 L102.8 113.07 L103.05 115.68 L103.3 118.36 L103.55 121.11 L103.8 123.97 L104.05 126.92 L104.3 130 L104.55 133.27 L104.8 136.77 L105.05 140.4 L105.3 144.11 L105.55 147.81 L105.8 151.45 L106.05 155.1 L106.3 158.78 L106.55 162.47 L106.8 166.15 L107.05 169.82 L107.3 173.47 L107.55 177.27 L107.8 181.14 L108.05 184.97 L108.3 188.63 L108.55 192.02 L108.8 195 L109.05 197.66 L109.3 200.15 L109.55 202.48 L109.8 204.67 L110.05 206.7 L110.3 208.59 L110.55 210.34 L110.8 212 L111.05 213.57 L111.3 215.04 L111.55 216.42 L111.8 217.7 L112.05 218.86 L112.3 219.9 L112.55 220.83 L112.8 221.67 L113.05 222.45 L113.3 223.2 L113.55 223.94 L113.8 224.66 L114.05 225.34 L114.3 225.96 L114.55 226.5 L114.8 226.97 L115.05 227.42 L115.3 227.84 L115.55 228.21 L115.8 228.53 L116.05 228.78 L116.3 228.97 L116.55 229.13 L116.8 229.28 L117.05 229.41 L117.3 229.51 L117.55 229.58 L117.8 229.6 L118.05 229.58 L118.3 229.53 L118.55 229.44 L118.8 229.33 L119.05 229.2 L119.3 229.06 L119.55 228.89 L119.8 228.62 L120.05 228.25 L120.3 227.82 L120.55 227.33 L120.8 226.8 L121.05 226.21 L121.3 225.49 L121.55 224.6 L121.8 223.5 L122.05 221.84 L122.3 219.49 L122.55 216.78 L122.8 214 L123.05 211.18 L123.3 208.13 L123.55 204.88 L123.8 201.43 L124.05 197.75 L124.3 193.7 L124.55 189.41 L124.8 185 L125.05 180.33 L125.3 175.47 L125.55 170.85 L125.8 166.81 L126.05 163.12 L126.3 159.46 L126.55 155.58 L126.8 151.32 L127.05 146.82 L127.3 142.23 L127.55 137.71 L127.8 133.25 L128.05 128.8 L128.3 124.68 L128.55 121.09 L128.8 117.7 L129.05 114.86 L129.3 112.87 L129.55 111.28 L129.8 110.18 L130.05 109.71 L130.3 109.42 L130.55 109.3 L130.8 109.42 L131.05 109.81 L131.3 110.32 L131.55 111.08 L131.8 112.13 L132.05 113.26 L132.3 114.26 L132.55 115.15 L132.8 115.99 L133.05 116.83 L133.3 117.72 L133.55 118.71 L133.8 119.78 L134.05 120.92 L134.3 122.15 L134.55 123.48 L134.8 124.9 L135.05 126.44 L135.3 128.19 L135.55 130.14 L135.8 132.28 L136.05 134.57 L136.3 137.01 L136.55 139.79 L136.8 142.78 L137.05 145.79 L137.3 148.66 L137.55 151.34 L137.8 153.92 L138.05 156.48 L138.3 159.11 L138.55 161.91 L138.8 164.91 L139.05 168.05 L139.3 171.34 L139.55 174.8 L139.8 178.49 L140.05 182.65 L140.3 187.01 L140.55 191.21 L140.8 195.08 L141.05 198.83 L141.3 202.37 L141.55 205.62 L141.8 208.47 L142.05 211.12 L142.3 213.84 L142.55 216.82 L142.8 219.96 L143.05 223.22 L143.3 226.61 L143.55 230.18 L143.8 234.03 L144.05 237.86 L144.3 241.38 L144.55 244.85 L144.8 248 L145.05 250.42 L145.3 252.53 L145.55 254.41 L145.8 255.74 L146.05 256.23 L146.3 256.38 L146.55 256.47 L146.8 256.5 L147.05 255.76 L147.3 254.08 L147.55 252.3 L147.8 250.8 L148.05 249.23 L148.3 247.82 L148.55 246.84 L148.8 246.12 L149.05 245.55 L149.3 245.2 L149.55 245.02 L149.8 244.91 L150.05 244.81 L150.3 244.65 L150.55 244.38 L150.8 244 L151.05 243.49 L151.3 242.8 L151.55 241.2 L151.8 238.84 L152.05 236.95 L152.3 235.38 L152.55 234.08 L152.8 233.51 L153.05 233.5 L153.3 233.51 L153.55 233.53 L153.8 233.55 L154.05 233.57 L154.3 233.6 L154.55 233.64 L154.8 233.72 L155.05 233.82 L155.3 233.93 L155.55 234.06 L155.8 234.2 L156.05 234.35 L156.3 234.54 L156.55 234.77 L156.8 235.06 L157.05 235.48 L157.3 236.23 L157.55 237.22 L157.8 238.34 L158.05 239.49 L158.3 240.75 L158.55 242.15 L158.8 243.59 L159.05 245.01 L159.3 246.36 L159.55 247.78 L159.8 249.16 L160.05 250.35 L160.3 251.2 L160.55 251.82 L160.8 252.37 L161.05 252.7 L161.3 252.72 L161.55 252.4 L161.8 251.86 L162.05 251.23 L162.3 250.64 L162.55 249.99 L162.8 249.27 L163.05 248.51 L163.3 247.75 L163.55 246.99 L163.8 246.24 L164.05 245.44 L164.3 244.57 L164.55 243.59 L164.8 242.49 L165.05 241.3 L165.3 240.03 L165.55 238.72 L165.8 237.38 L166.05 235.93 L166.3 234.35 L166.55 232.76 L166.8 231.26 L167.05 229.98 L167.3 228.83 L167.55 227.75 L167.8 226.76 L168.05 225.87 L168.3 225.08 L168.55 224.33 L168.8 223.61 L169.05 223 L169.3 222.6 L169.55 222.42 L169.8 222.31 L170.05 222.23 L170.3 222.21 L170.55 222.35 L170.8 222.67 L171.05 223.14 L171.3 223.67 L171.55 224.37 L171.8 225.36 L172.05 226.55 L172.3 227.9 L172.55 229.44 L172.8 231.43 L173.05 233.68 L173.3 235.92 L173.55 238.01 L173.8 240.19 L174.05 242.32 L174.3 244.22 L174.55 245.74 L174.8 246.98 L175.05 248.06 L175.3 249 L175.55 249.84 L175.8 250.58 L176.05 251.23 L176.3 251.82 L176.55 252.39 L176.8 253 L177.05 253.62 L177.3 254.23 L177.55 254.85 L177.8 255.52 L178.05 256.25 L178.3 257.09 L178.55 258.01 L178.8 258.97 L179.05 259.93 L179.3 260.88 L179.55 261.89 L179.8 262.92 L180.05 263.89 L180.3 264.72 L180.55 265.4 L180.8 266.08 L181.05 266.68 L181.3 267.09 L181.55 267.2 L181.8 267.13 L182.05 267 L182.3 266.83 L182.55 266.64 L182.8 266.43 L183.05 266.15 L183.3 265.84 L183.55 265.51 L183.8 265.2 L184.05 264.89 L184.3 264.56 L184.55 264.25 L184.8 263.97 L185.05 263.76 L185.3 263.61 L185.55 263.47 L185.8 263.35 L186.05 263.23 L186.3 263.09 L186.55 262.95 L186.8 262.8 L187.05 262.63 L187.3 262.41 L187.55 262.16 L187.8 261.85 L188.05 261.5 L188.3 261.08 L188.55 260.56 L188.8 259.97 L189.05 259.32 L189.3 258.63 L189.55 257.94 L189.8 257.21 L190.05 256.4 L190.3 255.54 L190.55 254.67 L190.8 253.83 L191.05 253.05 L191.3 252.33 L191.55 251.64 L191.8 250.98 L192.05 250.34 L192.3 249.74 L192.55 249.16 L192.8 248.61 L193.05 248.05 L193.3 247.52 L193.55 247.03 L193.8 246.62 L194.05 246.32 L194.3 246.06 L194.55 245.84 L194.8 245.68 L195.05 245.6 L195.3 245.61 L195.55 245.63 L195.8 245.66 L196.05 245.71 L196.3 245.77 L196.55 245.83 L196.8 245.94 L197.05 246.1 L197.3 246.3 L197.55 246.51 L197.8 246.72 L198.05 246.91 L198.3 247.09 L198.55 247.28 L198.8 247.48 L199.05 247.67 L199.3 247.86 L199.55 248.05 L199.8 248.24 L200.05 248.42 L200.3 248.6 L200.55 248.79 L200.8 248.99 L201.05 249.18 L201.3 249.36 L201.55 249.53 L201.8 249.69 L202.05 249.82 L202.3 249.93 L202.55 250.02 L202.8 250.12 L203.05 250.21 L203.3 250.29 L203.55 250.37 L203.8 250.44 L204.05 250.49 L204.3 250.54 L204.55 250.57 L204.8 250.59 L205.05 250.57 L205.3 250.54 L205.55 250.48 L205.8 250.4 L206.05 250.31 L206.3 250.21 L206.55 250.1 L206.8 250 L207.05 249.88 L207.3 249.73 L207.55 249.56 L207.8 249.37 L208.05 249.16 L208.3 248.95 L208.55 248.73 L208.8 248.51 L209.05 248.27 L209.3 248.01 L209.55 247.74 L209.8 247.46 L210.05 247.18 L210.3 246.91 L210.55 246.66 L210.8 246.43 L211.05 246.18 L211.3 245.94 L211.55 245.71 L211.8 245.52 L212.05 245.38 L212.3 245.31 L212.55 245.25 L212.8 245.21 L213.05 245.17 L213.3 245.16 L213.55 245.16 L213.8 245.2 L214.05 245.38 L214.3 245.68 L214.55 246.08 L214.8 246.52 L215.05 246.98 L215.3 247.57 L215.55 248.31 L215.8 249.13 L216.05 250 L216.3 250.87 L216.55 251.83 L216.8 252.85 L217.05 253.87 L217.3 254.82 L217.55 255.69 L217.8 256.51 L218.05 257.31 L218.3 258.1 L218.55 258.9 L218.8 259.74 L219.05 260.62 L219.3 261.52 L219.55 262.44 L219.8 263.37 L220.05 264.29 L220.3 265.2 L220.55 266.13 L220.8 267.11 L221.05 268.1 L221.3 269.08 L221.55 270.03 L221.8 270.94 L222.05 271.77 L222.3 272.5 L222.55 273.15 L222.8 273.74 L223.05 274.3 L223.3 274.82 L223.55 275.32 L223.8 275.81 L224.05 276.3 L224.3 276.78 L224.55 277.24 L224.8 277.7 L225.05 278.14 L225.3 278.56 L225.55 278.97 L225.8 279.36 L226.05 279.75 L226.3 280.13 L226.55 280.48 L226.8 280.79 L227.05 281.05 L227.3 281.29 L227.55 281.5 L227.8 281.66 L228.05 281.7 L228.3 281.6 L228.55 281.39 L228.8 281.09 L229.05 280.73 L229.3 280.31 L229.55 279.58 L229.8 278.62 L230.05 277.54 L230.3 276.47 L230.55 275.35 L230.8 274.14 L231.05 272.98 L231.3 271.91 L231.55 270.85 L231.8 269.85 L232.05 269.01 L232.3 268.37 L232.55 267.79 L232.8 267.27 L233.05 266.84 L233.3 266.54 L233.55 266.4 L233.8 266.42 L234.05 266.5 L234.3 266.63 L234.55 266.8 L234.8 267.01 L235.05 267.23 L235.3 267.56 L235.55 267.99 L235.8 268.48 L236.05 269 L236.3 269.55 L236.55 270.16 L236.8 270.83 L237.05 271.51 L237.3 272.21 L237.55 272.89 L237.8 273.56 L238.05 274.25 L238.3 274.95 L238.55 275.63 L238.8 276.28 L239.05 276.89 L239.3 277.46 L239.55 278.03 L239.8 278.57 L240.05 279.01 L240.3 279.29 L240.55 279.46 L240.8 279.59 L241.05 279.63 L241.3 279.51 L241.55 279.16 L241.8 278.68 L242.05 278.16 L242.3 277.48 L242.55 276.62 L242.8 275.69 L243.05 274.78 L243.3 273.96 L243.55 273.12 L243.8 272.27 L244.05 271.47 L244.3 270.78 L244.55 270.28 L244.8 269.93 L245.05 269.62 L245.3 269.36 L245.55 269.16 L245.8 269.07 L246.05 269.06 L246.3 269.09 L246.55 269.09 L246.8 269 L247.05 268.76 L247.3 268.4 L247.55 267.98 L247.8 267.56 L248.05 267.15 L248.3 266.69 L248.55 266.18 L248.8 265.63 L249.05 265.03 L249.3 264.39 L249.55 263.59 L249.8 262.72 L250.05 261.88 L250.3 261.17 L250.55 260.54 L250.8 259.92 L251.05 259.41 L251.3 259.13 L251.55 259.15 L251.8 259.43 L252.05 259.86 L252.3 260.34 L252.55 260.79 L252.8 261.33 L253.05 261.94 L253.3 262.5 L253.55 262.89 L253.8 263.02 L254.05 263.09 L254.3 263.16 L254.55 263.24 L254.8 263.31 L255.05 263.37 L255.3 263.36 L255.55 263.28 L255.8 263.19 L256.05 263.13 L256.3 263.17 L256.55 263.34 L256.8 263.6 L257.05 263.93 L257.3 264.29 L257.55 264.65 L257.8 265.04 L258.05 265.5 L258.3 266 L258.55 266.5 L258.8 267 L259.05 267.49 L259.3 267.98 L259.55 268.48 L259.8 268.99 L260.05 269.51 L260.3 270.04 L260.55 270.6 L260.8 271.18 L261.05 271.75 L261.3 272.31 L261.55 272.83 L261.8 273.35 L262.05 273.87 L262.3 274.36 L262.55 274.79 L262.8 275.12 L263.05 275.38 L263.3 275.61 L263.55 275.82 L263.8 275.99 L264.05 276.15 L264.3 276.27 L264.55 276.38 L264.8 276.48 L265.05 276.59 L265.3 276.73 L265.55 276.94 L265.8 277.22 L266.05 277.55 L266.3 277.93 L266.55 278.34 L266.8 278.76 L267.05 279.22 L267.3 279.76 L267.55 280.34 L267.8 280.95 L268.05 281.55 L268.3 282.12 L268.55 282.68 L268.8 283.25 L269.05 283.81 L269.3 284.37 L269.55 284.9 L269.8 285.42 L270.05 285.89 L270.3 286.33 L270.55 286.75 L270.8 287.15 L271.05 287.53 L271.3 287.92 L271.55 288.31 L271.8 288.71 L272.05 289.14 L272.3 289.58 L272.55 290.04 L272.8 290.51 L273.05 290.99 L273.3 291.47 L273.55 291.95 L273.8 292.45 L274.05 292.96 L274.3 293.47 L274.55 293.97 L274.8 294.45 L275.05 294.9 L275.3 295.33 L275.55 295.74 L275.8 296.14 L276.05 296.51 L276.3 296.87 L276.55 297.2 L276.8 297.51 L277.05 297.8 L277.3 298.08 L277.55 298.35 L277.8 298.61 L278.05 298.86 L278.3 299.11 L278.55 299.35 L278.8 299.58 L279.05 299.8 L279.3 300.02 L279.55 300.24 L279.8 300.5 L280.05 300.74 L280.3 300.92 L280.55 300.95 L280.8 300.85 L281.05 300.7 L281.3 300.53 L281.55 300.33 L281.8 300.13 L282.05 299.92 L282.3 299.69 L282.55 299.43 L282.8 299.17 L283.05 298.94 L283.3 298.76 L283.55 298.65 L283.8 298.62 L284.05 298.64 L284.3 298.69 L284.55 298.75 L284.8 298.83 L285.05 298.9 L285.3 298.99 L285.55 299.1 L285.8 299.23 L286.05 299.37 L286.3 299.52 L286.55 299.67 L286.8 299.83 L287.05 300 L287.3 300.19 L287.55 300.38 L287.8 300.58 L288.05 300.78 L288.3 300.99 L288.55 301.19 L288.8 301.4 L289.05 301.61 L289.3 301.83 L289.55 302.05 L289.8 302.28 L290.05 302.5 L290.3 302.73 L290.55 302.95 L290.8 303.2 L291.05 303.46 L291.3 303.71 L291.55 303.95 L291.8 304.16 L292.05 304.31 L292.3 304.44 L292.55 304.57 L292.8 304.66 L293.05 304.7 L293.3 304.69 L293.55 304.65 L293.8 304.58 L294.05 304.5 L294.3 304.4 L294.55 304.26 L294.8 304.05 L295.05 303.79 L295.3 303.48 L295.55 303.15 L295.8 302.8 L296.05 302.39 L296.3 301.89 L296.55 301.34 L296.8 300.78 L297.05 300.26 L297.3 299.8 L297.55 299.38 L297.8 298.96 L298.05 298.62 L298.3 298.4 L298.55 298.27 L298.8 298.17 L299.05 298.11 L299.3 298.11 L299.55 298.22 L299.8 298.41 L300.05 298.65 L300.3 298.89 L300.55 299.15 L300.8 299.46 L301.05 299.8 L301.3 300.15 L301.55 300.48 L301.8 300.79 L302.05 301.11 L302.3 301.42 L302.55 301.72 L302.8 301.99 L303.05 302.22 L303.3 302.42 L303.55 302.59 L303.8 302.74 L304.05 302.9 L304.3 303.08 L304.55 303.26 L304.8 303.44 L305.05 303.63 L305.3 303.81 L305.55 303.99 L305.8 304.15 L306.05 304.3 L306.3 304.44 L306.55 304.57 L306.8 304.7 L307.05 304.81 L307.3 304.93 L307.55 305.03 L307.8 305.13 L308.05 305.22 L308.3 305.3"/>
<path stroke="#ff00ff" d="M56.3 353.18 L56.55 353.16 L56.8 353.14 L57.05 353.11 L57.3 353.09 L57.55 353.06 L57.8 353.04 L58.05 353.01 L58.3 352.98 L58.55 352.95 L58.8 352.92 L59.05 352.88 L59.3 352.85 L59.55 352.81 L59.8 352.78 L60.05 352.74 L60.3 352.71 L60.55 352.67 L60.8 352.63 L61.05 352.59 L61.3 352.55 L61.55 352.51 L61.8 352.47 L62.05 352.43 L62.3 352.38 L62.55 352.34 L62.8 352.29 L63.05 352.24 L63.3 352.19 L63.55 352.13 L63.8 352.08 L64.05 352.02 L64.3 351.96 L64.55 351.9 L64.8 351.84 L65.05 351.77 L65.3 351.71 L65.55 351.63 L65.8 351.56 L66.05 351.48 L66.3 351.4 L66.55 351.31 L66.8 351.21 L67.05 351.1 L67.3 350.99 L67.55 350.87 L67.8 350.74 L68.05 350.61 L68.3 350.48 L68.55 350.35 L68.8 350.21 L69.05 350.07 L69.3 349.92 L69.55 349.75 L69.8 349.58 L70.05 349.4 L70.3 349.22 L70.55 349.06 L70.8 348.91 L71.05 348.78 L71.3 348.66 L71.55 348.55 L71.8 348.46 L72.05 348.36 L72.3 348.27 L72.55 348.18 L72.8 348.1 L73.05 348.01 L73.3 347.92 L73.55 347.82 L73.8 347.72 L74.05 347.63 L74.3 347.54 L74.55 347.45 L74.8 347.36 L75.05 347.27 L75.3 347.16 L75.55 347.05 L75.8 346.92 L76.05 346.77 L76.3 346.58 L76.55 346.35 L76.8 346.08 L77.05 345.79 L77.3 345.48 L77.55 345.16 L77.8 344.85 L78.05 344.54 L78.3 344.24 L78.55 343.95 L78.8 343.64 L79.05 343.32 L79.3 342.96 L79.55 342.57 L79.8 342.11 L80.05 341.56 L80.3 340.92 L80.55 340.2 L80.8 339.43 L81.05 338.61 L81.3 337.75 L81.55 336.84 L81.8 335.82 L82.05 334.67 L82.3 333.3 L82.55 331.41 L82.8 329.57 L83.05 328.37 L83.3 327.58 L83.55 326.73 L83.8 325.26 L84.05 322.28 L84.3 318.4 L84.55 314.53 L84.8 311.5 L85.05 309.01 L85.3 306.73 L85.55 304.49 L85.8 302.12 L86.05 299.43 L86.3 296.49 L86.55 293.36 L86.8 290.07 L87.05 286.62 L87.3 283.04 L87.55 279.34 L87.8 275.54 L88.05 271.58 L88.3 267.21 L88.55 262.63 L88.8 258.09 L89.05 253.8 L89.3 249.9 L89.55 246.2 L89.8 242.64 L90.05 239.15 L90.3 235.68 L90.55 232.16 L90.8 228.56 L91.05 225.05 L91.3 221.59 L91.55 218.11 L91.8 214.53 L92.05 210.75 L92.3 206.71 L92.55 202.32 L92.8 197.55 L93.05 192.43 L93.3 186.97 L93.55 181.19 L93.8 174.96 L94.05 168.12 L94.3 160.89 L94.55 153.51 L94.8 145.74 L95.05 137.74 L95.3 130 L95.55 122.28 L95.8 114.87 L96.05 108.97 L96.3 104.28 L96.55 100.3 L96.8 97 L97.05 94.22 L97.3 91.84 L97.55 89.85 L97.8 88.16 L98.05 86.76 L98.3 85.93 L98.55 85.35 L98.8 85.1 L99.05 85.36 L99.3 85.94 L99.55 86.69 L99.8 87.84 L100.05 89.22 L100.3 90.73 L100.55 92.48 L100.8 94.4 L101.05 96.41 L101.3 98.52 L101.55 100.75 L101.8 103.09 L102.05 105.51 L102.3 107.99 L102.55 110.51 L102.8 113.07 L103.05 115.68 L103.3 118.36 L103.55 121.11 L103.8 123.97 L104.05 126.92 L104.3 130 L104.55 133.27 L104.8 136.77 L105.05 140.4 L105.3 144.11 L105.55 147.81 L105.8 151.45 L106.05 155.1 L106.3 158.78 L106.55 162.47 L106.8 166.15 L107.05 169.82 L107.3 173.47 L107.55 177.27 L107.8 181.14 L108.05 184.97 L108.3 188.63 L108.55 192.02 L108.8 195 L109.05 197.66 L109.3 200.15 L109.55 202.48 L109.8 204.67 L110.05 206.7 L110.3 208.59 L110.55 210.34 L110.8 212 L111.05 213.57 L111.3 215.04 L111.55 216.42 L111.8 217.7 L112.05 218.86 L112.3 219.9 L112.55 220.83 L112.8 221.67 L113.05 222.45 L113.3 223.2 L113.55 223.94 L113.8 224.66 L114.05 225.34 L114.3 225.96 L114.55 226.5 L114.8 226.97 L115.05 227.42 L115.3 227.84 L115.55 228.21 L115.8 228.53 L116.05 228.78 L116.3 228.97 L116.55 229.13 L116.8 229.28 L117.05 229.41 L117.3 229.51 L117.55 229.58 L117.8 229.6 L118.05 229.58 L118.3 229.53 L118.55 229.44 L118.8 229.33 L119.05 229.2 L119.3 229.06 L119.55 228.89 L119.8 228.62 L120.05 228.25 L120.3 227.82 L120.55 227.33 L120.8 226.8 L121.05 226.21 L121.3 225.49 L121.55 224.6 L121.8 223.5 L122.05 221.84 L122.3 219.49 L122.55 216.78 L122.8 214 L123.05 211.18 L123.3 208.13 L123.55 204.88 L123.8 201.43 L124.05 197.75 L124.3 193.7 L124.55 189.41 L124.8 185 L125.05 180.33 L125.3 175.47 L125.55 170.85 L125.8 166.81 L126.05 163.12 L126.3 159.53 L126.55 155.79 L126.8 151.72 L127.05 147.45 L127.3 143.11 L127.55 138.83 L127.8 134.6 L128.05 130.33 L128.3 126.39 L128.55 123 L128.8 119.81 L129.05 117.16 L129.3 115.36 L129.55 113.94 L129.8 112.99 L130.05 112.63 L130.3 112.41 L130.55 112.3 L130.8 112.4 L131.05 112.74 L131.3 113.2 L131.55 113.89 L131.8 114.87 L132.05 115.92 L132.3 116.85 L132.55 117.69 L132.8 118.5 L133.05 119.33 L133.3 120.22 L133.55 121.21 L133.8 122.28 L134.05 123.42 L134.3 124.65 L134.55 125.98 L134.8 127.4 L135.05 128.94 L135.3 130.65 L135.55 132.51 L135.8 134.52 L136.05 136.66 L136.3 138.94 L136.55 141.55 L136.8 144.39 L137.05 147.26 L137.3 150 L137.55 152.52 L137.8 154.94 L138.05 157.33 L138.3 159.8 L138.55 162.44 L138.8 165.29 L139.05 168.3 L139.3 171.48 L139.55 174.87 L139.8 178.51 L140.05 182.65 L140.3 187.01 L140.55 191.21 L140.8 195.08 L141.05 198.83 L141.3 202.37 L141.55 205.62 L141.8 208.47 L142.05 211.12 L142.3 213.84 L142.55 216.82 L142.8 219.96 L143.05 223.22 L143.3 226.61 L143.55 230.18 L143.8 234.03 L144.05 237.86 L144.3 241.38 L144.55 244.85 L144.8 248 L145.05 250.42 L145.3 252.53 L145.55 254.41 L145.8 255.74 L146.05 256.23 L146.3 256.38 L146.55 256.47 L146.8 256.5 L147.05 255.76 L147.3 254.08 L147.55 252.3 L147.8 250.8 L148.05 249.23 L148.3 247.82 L148.55 246.84 L148.8 246.12 L149.05 245.55 L149.3 245.2 L149.55 245.02 L149.8 244.91 L150.05 244.81 L150.3 244.67 L150.55 244.47 L150.8 244.18 L151.05 243.77 L151.3 243.2 L151.55 241.73 L151.8 239.49 L152.05 237.72 L152.3 236.24 L152.55 235.01 L152.8 234.5 L153.05 234.5 L153.3 234.51 L153.55 234.53 L153.8 234.55 L154.05 234.57 L154.3 234.6 L154.55 234.64 L154.8 234.72 L155.05 234.82 L155.3 234.93 L155.55 235.06 L155.8 235.2 L156.05 235.35 L156.3 235.54 L156.55 235.77 L156.8 236.06 L157.05 236.48 L157.3 237.2 L157.55 238.13 L157.8 239.17 L158.05 240.21 L158.3 241.35 L158.55 242.62 L158.8 243.94 L159.05 245.25 L159.3 246.5 L159.55 247.84 L159.8 249.18 L160.05 250.35 L160.3 251.2 L160.55 251.83 L160.8 252.38 L161.05 252.73 L161.3 252.77 L161.55 252.46 L161.8 251.94 L162.05 251.34 L162.3 250.78 L162.55 250.15 L162.8 249.46 L163.05 248.73 L163.3 248 L163.55 247.28 L163.8 246.56 L164.05 245.8 L164.3 244.96 L164.55 244.02 L164.8 242.96 L165.05 241.81 L165.3 240.58 L165.55 239.3 L165.8 238 L166.05 236.59 L166.3 235.04 L166.55 233.48 L166.8 232.02 L167.05 230.77 L167.3 229.65 L167.55 228.6 L167.8 227.64 L168.05 226.77 L168.3 226 L168.55 225.27 L168.8 224.57 L169.05 223.98 L169.3 223.58 L169.55 223.42 L169.8 223.3 L170.05 223.23 L170.3 223.2 L170.55 223.31 L170.8 223.61 L171.05 224.02 L171.3 224.5 L171.55 225.14 L171.8 226.06 L172.05 227.19 L172.3 228.46 L172.55 229.93 L172.8 231.84 L173.05 234.02 L173.3 236.19 L173.55 238.22 L173.8 240.33 L174.05 242.41 L174.3 244.28 L174.55 245.76 L174.8 246.99 L175.05 248.06 L175.3 249 L175.55 249.84 L175.8 250.58 L176.05 251.23 L176.3 251.82 L176.55 252.39 L176.8 253 L177.05 253.62 L177.3 254.23 L177.55 254.85 L177.8 255.52 L178.05 256.25 L178.3 257.09 L178.55 258.01 L178.8 258.97 L179.05 259.93 L179.3 260.88 L179.55 261.89 L179.8 262.92 L180.05 263.89 L180.3 264.72 L180.55 265.4 L180.8 266.08 L181.05 266.68 L181.3 267.09 L181.55 267.2 L181.8 267.13 L182.05 267 L182.3 266.83 L182.55 266.64 L182.8 266.43 L183.05 266.15 L183.3 265.84 L183.55 265.51 L183.8 265.2 L184.05 264.89 L184.3 264.56 L184.55 264.25 L184.8 263.97 L185.05 263.76 L185.3 263.61 L185.55 263.47 L185.8 263.35 L186.05 263.23 L186.3 263.1 L186.55 262.97 L186.8 262.85 L187.05 262.7 L187.3 262.53 L187.55 262.31 L187.8 262.06 L188.05 261.77 L188.3 261.4 L188.55 260.95 L188.8 260.43 L189.05 259.85 L189.3 259.24 L189.55 258.62 L189.8 257.97 L190.05 257.25 L190.3 256.47 L190.55 255.69 L190.8 254.93 L191.05 254.23 L191.3 253.6 L191.55 252.99 L191.8 252.4 L192.05 251.84 L192.3 251.3 L192.55 250.79 L192.8 250.31 L193.05 249.81 L193.3 249.33 L193.55 248.89 L193.8 248.52 L194.05 248.25 L194.3 248.03 L194.55 247.82 L194.8 247.67 L195.05 247.6 L195.3 247.61 L195.55 247.63 L195.8 247.66 L196.05 247.7 L196.3 247.75 L196.55 247.81 L196.8 247.92 L197.05 248.07 L197.3 248.25 L197.55 248.46 L197.8 248.65 L198.05 248.83 L198.3 249.01 L198.55 249.19 L198.8 249.36 L199.05 249.54 L199.3 249.72 L199.55 249.9 L199.8 250.07 L200.05 250.23 L200.3 250.4 L200.55 250.58 L200.8 250.76 L201.05 250.93 L201.3 251.1 L201.55 251.25 L201.8 251.39 L202.05 251.51 L202.3 251.6 L202.55 251.68 L202.8 251.75 L203.05 251.83 L203.3 251.89 L203.55 251.96 L203.8 252.01 L204.05 252.05 L204.3 252.08 L204.55 252.1 L204.8 252.1 L205.05 252.07 L205.3 252.02 L205.55 251.95 L205.8 251.85 L206.05 251.75 L206.3 251.64 L206.55 251.52 L206.8 251.4 L207.05 251.27 L207.3 251.1 L207.55 250.92 L207.8 250.72 L208.05 250.5 L208.3 250.27 L208.55 250.03 L208.8 249.8 L209.05 249.55 L209.3 249.28 L209.55 248.99 L209.8 248.69 L210.05 248.4 L210.3 248.11 L210.55 247.85 L210.8 247.6 L211.05 247.33 L211.3 247.07 L211.55 246.83 L211.8 246.62 L212.05 246.46 L212.3 246.37 L212.55 246.29 L212.8 246.22 L213.05 246.17 L213.3 246.13 L213.55 246.1 L213.8 246.11 L214.05 246.25 L214.3 246.52 L214.55 246.87 L214.8 247.27 L215.05 247.69 L215.3 248.23 L215.55 248.91 L215.8 249.69 L216.05 250.51 L216.3 251.33 L216.55 252.25 L216.8 253.22 L217.05 254.19 L217.3 255.1 L217.55 255.93 L217.8 256.71 L218.05 257.46 L218.3 258.22 L218.55 258.99 L218.8 259.8 L219.05 260.66 L219.3 261.54 L219.55 262.45 L219.8 263.37 L220.05 264.29 L220.3 265.2 L220.55 266.13 L220.8 267.11 L221.05 268.1 L221.3 269.08 L221.55 270.03 L221.8 270.94 L222.05 271.77 L222.3 272.5 L222.55 273.15 L222.8 273.74 L223.05 274.3 L223.3 274.82 L223.55 275.32 L223.8 275.81 L224.05 276.3 L224.3 276.78 L224.55 277.24 L224.8 277.7 L225.05 278.14 L225.3 278.56 L225.55 278.97 L225.8 279.36 L226.05 279.75 L226.3 280.13 L226.55 280.48 L226.8 280.79 L227.05 281.05 L227.3 281.29 L227.55 281.5 L227.8 281.66 L228.05 281.7 L228.3 281.6 L228.55 281.39 L228.8 281.09 L229.05 280.73 L229.3 280.31 L229.55 279.58 L229.8 278.62 L230.05 277.54 L230.3 276.5 L230.55 275.44 L230.8 274.33 L231.05 273.29 L231.3 272.36 L231.55 271.44 L231.8 270.6 L232.05 269.91 L232.3 269.42 L232.55 268.98 L232.8 268.58 L233.05 268.25 L233.3 268.01 L233.55 267.9 L233.8 267.92 L234.05 267.98 L234.3 268.08 L234.55 268.21 L234.8 268.37 L235.05 268.54 L235.3 268.8 L235.55 269.15 L235.8 269.57 L236.05 270.01 L236.3 270.47 L236.55 271 L236.8 271.58 L237.05 272.18 L237.3 272.79 L237.55 273.38 L237.8 273.97 L238.05 274.59 L238.3 275.21 L238.55 275.82 L238.8 276.42 L239.05 276.98 L239.3 277.51 L239.55 278.05 L239.8 278.58 L240.05 279.01 L240.3 279.3 L240.55 279.48 L240.8 279.63 L241.05 279.7 L241.3 279.61 L241.55 279.31 L241.8 278.87 L242.05 278.4 L242.3 277.77 L242.55 276.98 L242.8 276.1 L243.05 275.26 L243.3 274.51 L243.55 273.73 L243.8 272.95 L244.05 272.22 L244.3 271.6 L244.55 271.16 L244.8 270.88 L245.05 270.63 L245.3 270.44 L245.55 270.32 L245.8 270.31 L246.05 270.38 L246.3 270.49 L246.55 270.58 L246.8 270.58 L247.05 270.43 L247.3 270.16 L247.55 269.83 L247.8 269.5 L248.05 269.17 L248.3 268.79 L248.55 268.37 L248.8 267.91 L249.05 267.42 L249.3 266.87 L249.55 266.17 L249.8 265.39 L250.05 264.63 L250.3 264 L250.55 263.43 L250.8 262.86 L251.05 262.39 L251.3 262.13 L251.55 262.15 L251.8 262.41 L252.05 262.82 L252.3 263.27 L252.55 263.68 L252.8 264.17 L253.05 264.72 L253.3 265.21 L253.55 265.54 L253.8 265.6 L254.05 265.6 L254.3 265.6 L254.55 265.6 L254.8 265.6 L255.05 265.6 L255.3 265.52 L255.55 265.38 L255.8 265.23 L256.05 265.12 L256.3 265.11 L256.55 265.23 L256.8 265.45 L257.05 265.74 L257.3 266.05 L257.55 266.36 L257.8 266.72 L258.05 267.13 L258.3 267.58 L258.55 268.04 L258.8 268.5 L259.05 268.95 L259.3 269.4 L259.55 269.86 L259.8 270.33 L260.05 270.81 L260.3 271.3 L260.55 271.82 L260.8 272.36 L261.05 272.89 L261.3 273.41 L261.55 273.89 L261.8 274.38 L262.05 274.86 L262.3 275.31 L262.55 275.7 L262.8 276 L263.05 276.22 L263.3 276.41 L263.55 276.57 L263.8 276.71 L264.05 276.82 L264.3 276.9 L264.55 276.97 L264.8 277.03 L265.05 277.1 L265.3 277.2 L265.55 277.36 L265.8 277.6 L266.05 277.9 L266.3 278.25 L266.55 278.62 L266.8 279 L267.05 279.43 L267.3 279.93 L267.55 280.49 L267.8 281.07 L268.05 281.65 L268.3 282.2 L268.55 282.74 L268.8 283.29 L269.05 283.84 L269.3 284.38 L269.55 284.91 L269.8 285.42 L270.05 285.89 L270.3 286.34 L270.55 286.75 L270.8 287.15 L271.05 287.55 L271.3 287.94 L271.55 288.34 L271.8 288.75 L272.05 289.19 L272.3 289.65 L272.55 290.12 L272.8 290.61 L273.05 291.1 L273.3 291.6 L273.55 292.1 L273.8 292.62 L274.05 293.15 L274.3 293.69 L274.55 294.21 L274.8 294.72 L275.05 295.19 L275.3 295.65 L275.55 296.09 L275.8 296.51 L276.05 296.92 L276.3 297.31 L276.55 297.67 L276.8 298.02 L277.05 298.34 L277.3 298.66 L277.55 298.96 L277.8 299.25 L278.05 299.54 L278.3 299.83 L278.55 300.11 L278.8 300.38 L279.05 300.64 L279.3 300.9 L279.55 301.16 L279.8 301.46 L280.05 301.75 L280.3 301.98 L280.55 302.1 L280.8 302.09 L281.05 302.05 L281.3 302 L281.55 301.93 L281.8 301.86 L282.05 301.78 L282.3 301.68 L282.55 301.54 L282.8 301.39 L283.05 301.26 L283.3 301.15 L283.55 301.1 L283.8 301.11 L284.05 301.14 L284.3 301.19 L284.55 301.25 L284.8 301.32 L285.05 301.39 L285.3 301.46 L285.55 301.56 L285.8 301.67 L286.05 301.8 L286.3 301.93 L286.55 302.07 L286.8 302.21 L287.05 302.37 L287.3 302.53 L287.55 302.71 L287.8 302.88 L288.05 303.07 L288.3 303.25 L288.55 303.44 L288.8 303.63 L289.05 303.82 L289.3 304.02 L289.55 304.22 L289.8 304.42 L290.05 304.63 L290.3 304.83 L290.55 305.04 L290.8 305.27 L291.05 305.52 L291.3 305.76 L291.55 305.99 L291.8 306.18 L292.05 306.33 L292.3 306.45 L292.55 306.57 L292.8 306.66 L293.05 306.7 L293.3 306.69 L293.55 306.65 L293.8 306.58 L294.05 306.5 L294.3 306.4 L294.55 306.26 L294.8 306.05 L295.05 305.79 L295.3 305.48 L295.55 305.15 L295.8 304.8 L296.05 304.39 L296.3 303.89 L296.55 303.34 L296.8 302.78 L297.05 302.26 L297.3 301.8 L297.55 301.38 L297.8 300.96 L298.05 300.62 L298.3 300.4 L298.55 300.27 L298.8 300.17 L299.05 300.11 L299.3 300.11 L299.55 300.22 L299.8 300.42 L300.05 300.66 L300.3 300.9 L300.55 301.17 L300.8 301.49 L301.05 301.84 L301.3 302.2 L301.55 302.54 L301.8 302.86 L302.05 303.18 L302.3 303.51 L302.55 303.82 L302.8 304.1 L303.05 304.35 L303.3 304.55 L303.55 304.74 L303.8 304.91 L304.05 305.09 L304.3 305.28 L304.55 305.48 L304.8 305.68 L305.05 305.89 L305.3 306.09 L305.55 306.28 L305.8 306.46 L306.05 306.63 L306.3 306.79 L306.55 306.94 L306.8 307.09 L307.05 307.23 L307.3 307.37 L307.55 307.49 L307.8 307.61 L308.05 307.72 L308.3 307.82"/>
</g>
<g style="font-size:14px" text-anchor="end">
<text x="53" y="357.6">0</text>
<text x="51" y="309">0.02</text>
<text x="51" y="260.3">0.04</text>
<text x="51" y="211.6">0.06</text>
<text x="51" y="162.9">0.08</text>
<text x="51" y="114.2">0.1</text>
<text x="51" y="65.5">0.12</text>
<text x="51" y="17">0.14</text>
</g>
<g style="font-size:14px" text-anchor="middle">
<text x="55.4" y="370.8">1800</text>
<text x="111.4" y="370.8">1600</text>
<text x="167.4" y="370.8">1400</text>
<text x="223.4" y="370.8">1200</text>
<text x="279.4" y="370.8">1000</text>
</g>
<text x="99" y="394.3" style="font-size:17px" textLength="136" lengthAdjust="spacingAndGlyphs">Wavenumber (cm</text>
<path d="M242.8 381.5H250.5M254.9 385.4V376.3L252.1 377.9" stroke="#000" stroke-width="1.35" fill="none"/>
<text x="258.6" y="394.3" style="font-size:17px">)</text>
<text transform="translate(16.3,268.5) rotate(-90)" style="font-size:17px" textLength="163.5" lengthAdjust="spacingAndGlyphs">Absorbance intensity</text>
<g style="font-size:13.6px">
<text transform="translate(93.7,26) rotate(90)">1649</text>
<text transform="translate(126.8,63.1) rotate(90)">1533</text>
<text transform="translate(148.8,198.3) rotate(90)">1452</text>
<text transform="translate(165.8,185.2) rotate(90)">1392</text>
<text transform="translate(191,207.3) rotate(90)">1302</text>
<text transform="translate(208.5,209) rotate(90)">1238</text>
<text transform="translate(229.7,229.6) rotate(90)">1165</text>
<text transform="translate(246.6,218.3) rotate(90)">1103</text>
<text transform="translate(263.6,223.9) rotate(90)">1088</text>
<text transform="translate(281.5,266.9) rotate(90)">972</text>
<text transform="translate(295.1,269.7) rotate(90)">931</text>
</g>
<path d="M258 262.3L266.2 257.6M288.6 292.4V298.6" stroke="#000" stroke-width="1.2" fill="none"/>
<rect x="223.6" y="11.7" width="84.9" height="158.8" fill="#fff" stroke="#000" stroke-width="1.4"/>
<g style="font-size:14.5px">
<path d="M228.3 24.2H253.9" stroke="#0000ff" stroke-width="1.3"/>
<text x="256.3" y="29.9" textLength="39.1" lengthAdjust="spacingAndGlyphs">0.25 d</text>
<path d="M228.3 46.55H253.9" stroke="#008000" stroke-width="1.3"/>
<text x="256.3" y="52.25" textLength="19.4" lengthAdjust="spacingAndGlyphs">3 d</text>
<path d="M228.3 68.9H253.9" stroke="#ff0000" stroke-width="1.3"/>
<text x="256.3" y="74.6" textLength="20.4" lengthAdjust="spacingAndGlyphs">6 d</text>
<path d="M228.3 91.25H253.9" stroke="#00bfbf" stroke-width="1.3"/>
<text x="256.3" y="96.95" textLength="27.2" lengthAdjust="spacingAndGlyphs">19 d</text>
<path d="M228.3 113.6H253.9" stroke="#bf00bf" stroke-width="1.3"/>
<text x="256.3" y="119.3" textLength="28.1" lengthAdjust="spacingAndGlyphs">50 d</text>
<path d="M228.3 135.95H253.9" stroke="#bfbf00" stroke-width="1.3"/>
<text x="256.3" y="141.65" textLength="28.5" lengthAdjust="spacingAndGlyphs">65 d</text>
<path d="M228.3 158.3H253.9" stroke="#ff00ff" stroke-width="1.3"/>
<text x="256.3" y="164" textLength="35.4" lengthAdjust="spacingAndGlyphs">107 d</text>
</g>
<g stroke="#000" stroke-width="1.4" fill="none">
<rect x="405.5" y="10.75" width="251.8" height="343.75"/>
<path d="M473.6 354.5v-3.2M473.6 10.75v3.2M559.1 354.5v-3.2M559.1 10.75v3.2M644.6 354.5v-3.2M644.6 10.75v3.2M405.5 285.64h3.2M657.3 285.64h-3.2M405.5 216.98h3.2M657.3 216.98h-3.2M405.5 148.32h3.2M657.3 148.32h-3.2M405.5 79.66h3.2M657.3 79.66h-3.2"/>
</g>
<path d="M422.3 58.77 L423.43 59.7 L424.56 60.65 L425.69 61.59 L426.82 62.55 L427.95 63.51 L429.08 64.47 L430.21 65.44 L431.34 66.41 L432.47 67.39 L433.6 68.37 L434.73 69.36 L435.86 70.36 L436.99 71.35 L438.12 72.35 L439.24 73.36 L440.37 74.37 L441.5 75.38 L442.63 76.4 L443.76 77.42 L444.89 78.45 L446.02 79.48 L447.15 80.51 L448.28 81.55 L449.41 82.58 L450.54 83.63 L451.67 84.67 L452.8 85.72 L453.93 86.77 L455.06 87.82 L456.19 88.87 L457.32 89.93 L458.45 90.99 L459.58 92.05 L460.71 93.12 L461.84 94.18 L462.97 95.25 L464.1 96.32 L465.23 97.39 L466.36 98.46 L467.49 99.53 L468.62 100.61 L469.75 101.68 L470.87 102.76 L472 103.83 L473.13 104.91 L474.26 105.99 L475.39 107.07 L476.52 108.15 L477.65 109.23 L478.78 110.3 L479.91 111.38 L481.04 112.46 L482.17 113.54 L483.3 114.61 L484.43 115.69 L485.56 116.76 L486.69 117.83 L487.82 118.9 L488.95 119.97 L490.08 121.03 L491.21 122.09 L492.34 123.15 L493.47 124.21 L494.6 125.26 L495.73 126.31 L496.86 127.35 L497.99 128.39 L499.12 129.42 L500.25 130.45 L501.38 131.47 L502.51 132.49 L503.63 133.51 L504.76 134.51 L505.89 135.51 L507.02 136.51 L508.15 137.5 L509.28 138.48 L510.41 139.45 L511.54 140.42 L512.67 141.38 L513.8 142.33 L514.93 143.27 L516.06 144.21 L517.19 145.13 L518.32 146.05 L519.45 146.96 L520.58 147.85 L521.71 148.74 L522.84 149.62 L523.97 150.49 L525.1 151.35 L526.23 152.2 L527.36 153.03 L528.49 153.86 L529.62 154.67 L530.75 155.47 L531.88 156.25 L533.01 157.02 L534.14 157.78 L535.26 158.52 L536.39 159.24 L537.52 159.95 L538.65 160.64 L539.78 161.32 L540.91 161.97 L542.04 162.61 L543.17 163.22 L544.3 163.82 L545.43 164.41 L546.56 164.97 L547.69 165.52 L548.82 166.05 L549.95 166.56 L551.08 167.06 L552.21 167.54 L553.34 168 L554.47 168.45 L555.6 168.88 L556.73 169.3 L557.86 169.7 L558.99 170.09 L560.12 170.46 L561.25 170.82 L562.38 171.16 L563.51 171.48 L564.64 171.79 L565.77 172.09 L566.89 172.37 L568.02 172.64 L569.15 172.89 L570.28 173.13 L571.41 173.35 L572.54 173.55 L573.67 173.75 L574.8 173.92 L575.93 174.08 L577.06 174.23 L578.19 174.36 L579.32 174.48 L580.45 174.58 L581.58 174.67 L582.71 174.74 L583.84 174.79 L584.97 174.84 L586.1 174.86 L587.23 174.87 L588.36 174.87 L589.49 174.85 L590.62 174.82 L591.75 174.77 L592.88 174.71 L594.01 174.63 L595.14 174.53 L596.27 174.42 L597.4 174.3 L598.53 174.16 L599.65 174.01 L600.78 173.84 L601.91 173.66 L603.04 173.46 L604.17 173.24 L605.3 173.02 L606.43 172.77 L607.56 172.51 L608.69 172.24 L609.82 171.95 L610.95 171.65 L612.08 171.33 L613.21 170.99 L614.34 170.65 L615.47 170.28 L616.6 169.9 L617.73 169.51 L618.86 169.1 L619.99 168.68 L621.12 168.24 L622.25 167.78 L623.38 167.31 L624.51 166.83 L625.64 166.33 L626.77 165.82 L627.9 165.29 L629.03 164.74 L630.16 164.18 L631.28 163.61 L632.41 163.02 L633.54 162.42 L634.67 161.8 L635.8 161.16 L636.93 160.51 L638.06 159.85 L639.19 159.17 L640.32 158.47 L641.45 157.76 L642.58 157.04 L643.71 156.3 L644.84 155.54 L645.97 154.77 L647.1 153.99" fill="none" stroke="#333" stroke-width="1.1" stroke-dasharray="1 2.5"/>
<path d="M422.3 267.37 L423.43 267.58 L424.56 267.79 L425.69 267.99 L426.82 268.19 L427.95 268.39 L429.08 268.58 L430.21 268.77 L431.34 268.96 L432.47 269.14 L433.6 269.32 L434.73 269.49 L435.86 269.66 L436.99 269.83 L438.12 269.99 L439.24 270.15 L440.37 270.31 L441.5 270.46 L442.63 270.6 L443.76 270.75 L444.89 270.89 L446.02 271.02 L447.15 271.15 L448.28 271.28 L449.41 271.4 L450.54 271.52 L451.67 271.63 L452.8 271.75 L453.93 271.85 L455.06 271.95 L456.19 272.05 L457.32 272.15 L458.45 272.24 L459.58 272.32 L460.71 272.4 L461.84 272.48 L462.97 272.55 L464.1 272.62 L465.23 272.69 L466.36 272.75 L467.49 272.8 L468.62 272.85 L469.75 272.9 L470.87 272.94 L472 272.98 L473.13 273.01 L474.26 273.04 L475.39 273.06 L476.52 273.08 L477.65 273.1 L478.78 273.11 L479.91 273.12 L481.04 273.12 L482.17 273.11 L483.3 273.11 L484.43 273.09 L485.56 273.08 L486.69 273.06 L487.82 273.03 L488.95 273 L490.08 272.96 L491.21 272.92 L492.34 272.88 L493.47 272.83 L494.6 272.78 L495.73 272.72 L496.86 272.66 L497.99 272.6 L499.12 272.54 L500.25 272.47 L501.38 272.4 L502.51 272.32 L503.63 272.25 L504.76 272.17 L505.89 272.09 L507.02 272.01 L508.15 271.92 L509.28 271.84 L510.41 271.75 L511.54 271.67 L512.67 271.58 L513.8 271.49 L514.93 271.4 L516.06 271.31 L517.19 271.22 L518.32 271.13 L519.45 271.04 L520.58 270.95 L521.71 270.87 L522.84 270.78 L523.97 270.69 L525.1 270.61 L526.23 270.52 L527.36 270.44 L528.49 270.36 L529.62 270.28 L530.75 270.2 L531.88 270.13 L533.01 270.06 L534.14 269.99 L535.26 269.92 L536.39 269.86 L537.52 269.8 L538.65 269.74 L539.78 269.68 L540.91 269.63 L542.04 269.59 L543.17 269.54 L544.3 269.51 L545.43 269.47 L546.56 269.44 L547.69 269.42 L548.82 269.4 L549.95 269.39 L551.08 269.38 L552.21 269.37 L553.34 269.38 L554.47 269.39 L555.6 269.4 L556.73 269.42 L557.86 269.45 L558.99 269.48 L560.12 269.52 L561.25 269.57 L562.38 269.62 L563.51 269.68 L564.64 269.75 L565.77 269.82 L566.89 269.9 L568.02 269.99 L569.15 270.08 L570.28 270.19 L571.41 270.3 L572.54 270.41 L573.67 270.54 L574.8 270.67 L575.93 270.82 L577.06 270.97 L578.19 271.13 L579.32 271.29 L580.45 271.47 L581.58 271.65 L582.71 271.84 L583.84 272.05 L584.97 272.26 L586.1 272.48 L587.23 272.7 L588.36 272.94 L589.49 273.19 L590.62 273.45 L591.75 273.71 L592.88 273.99 L594.01 274.28 L595.14 274.57 L596.27 274.88 L597.4 275.2 L598.53 275.52 L599.65 275.86 L600.78 276.21 L601.91 276.57 L603.04 276.93 L604.17 277.31 L605.3 277.71 L606.43 278.11 L607.56 278.52 L608.69 278.95 L609.82 279.38 L610.95 279.83 L612.08 280.29 L613.21 280.77 L614.34 281.26 L615.47 281.77 L616.6 282.29 L617.73 282.84 L618.86 283.4 L619.99 283.99 L621.12 284.59 L622.25 285.22 L623.38 285.87 L624.51 286.55 L625.64 287.25 L626.77 287.98 L627.9 288.73 L629.03 289.52 L630.16 290.33 L631.28 291.18 L632.41 292.06 L633.54 292.97 L634.67 293.91 L635.8 294.89 L636.93 295.9 L638.06 296.95 L639.19 298.04 L640.32 299.17 L641.45 300.34 L642.58 301.55 L643.71 302.8 L644.84 304.09 L645.97 305.43 L647.1 306.81" fill="none" stroke="#333" stroke-width="1.1" stroke-dasharray="1 2.5"/>
<path d="M422.3 15.3V102.2M419.8 15.3h5M419.8 102.2h5M514.5 114.8V168.2M512 114.8h5M512 168.2h5M540.2 141.3V184.6M537.7 141.3h5M537.7 184.6h5M582.9 158.3V184.2M580.4 158.3h5M580.4 184.2h5M618.6 158.4V189.2M616.1 158.4h5M616.1 189.2h5M628.6 141.4V183.3M626.1 141.4h5M626.1 183.3h5M647.1 120.4V188.3M644.6 120.4h5M644.6 188.3h5M422.4 252.7V282M419.9 252.7h5M419.9 282h5M514.2 259.5V288.3M511.7 259.5h5M511.7 288.3h5M540.2 245.9V284.5M537.7 245.9h5M537.7 284.5h5M582.9 251.1V300.3M580.4 251.1h5M580.4 300.3h5M618.6 267.4V300.6M616.1 267.4h5M616.1 300.6h5M628.4 276.3V297.7M625.9 276.3h5M625.9 297.7h5M647.1 288.7V328.2M644.6 288.7h5M644.6 328.2h5" stroke="#bfbfbf" stroke-width="1" fill="none"/>
<circle cx="422.3" cy="58.8" r="3.4" fill="#0072bd"/>
<circle cx="514.5" cy="141.5" r="3.4" fill="#0072bd"/>
<circle cx="540.2" cy="163.1" r="3.4" fill="#0072bd"/>
<circle cx="582.9" cy="171.3" r="3.4" fill="#0072bd"/>
<circle cx="618.6" cy="174" r="3.4" fill="#0072bd"/>
<circle cx="628.6" cy="162.3" r="3.4" fill="#0072bd"/>
<circle cx="647.1" cy="154.1" r="3.4" fill="#0072bd"/>
<circle cx="422.4" cy="267.5" r="3.4" fill="#d95319"/>
<circle cx="514.2" cy="273.8" r="3.4" fill="#d95319"/>
<circle cx="540.2" cy="264.9" r="3.4" fill="#d95319"/>
<circle cx="582.9" cy="275.6" r="3.4" fill="#d95319"/>
<circle cx="618.6" cy="283.8" r="3.4" fill="#d95319"/>
<circle cx="628.4" cy="287" r="3.4" fill="#d95319"/>
<circle cx="647.1" cy="308.4" r="3.4" fill="#d95319"/>
<g style="font-size:14px" text-anchor="end">
<text x="399.5" y="360">0.095</text>
<text x="399.5" y="291.64">0.1</text>
<text x="399.5" y="222.98">0.105</text>
<text x="399.5" y="154.32">0.11</text>
<text x="399.5" y="85.66">0.115</text>
<text x="399.5" y="16.8">0.12</text>
</g>
<g style="font-size:14px" text-anchor="middle">
<text x="473" y="371">0</text>
<text x="558.5" y="371">1</text>
<text x="644" y="371">2</text>
</g>
<text x="468.5" y="387.9" style="font-size:17px" textLength="115" lengthAdjust="spacingAndGlyphs">Time, log(days)</text>
<text transform="translate(357.5,315) rotate(-90)" style="font-size:17px"><tspan textLength="229" lengthAdjust="spacingAndGlyphs">Intensity at 1649 and 1533 cm</tspan></text>
<path d="M343.6 84.8V77.1M347.6 72.7H338.3L339.9 75.3" stroke="#000" stroke-width="1.35" fill="none"/>
<circle cx="590.6" cy="40.8" r="3.4" fill="#0072bd"/><circle cx="590.6" cy="67.5" r="3.4" fill="#d95319"/>
<text x="604.3" y="42.9" style="font-size:14px">A</text><text x="615.8" y="50.2" style="font-size:10.5px" textLength="25.6" lengthAdjust="spacingAndGlyphs">1649</text>
<text x="604.3" y="69.8" style="font-size:14px">A</text><text x="615.8" y="77.4" style="font-size:10.5px" textLength="25.6" lengthAdjust="spacingAndGlyphs">1533</text>
</svg></body></html>
